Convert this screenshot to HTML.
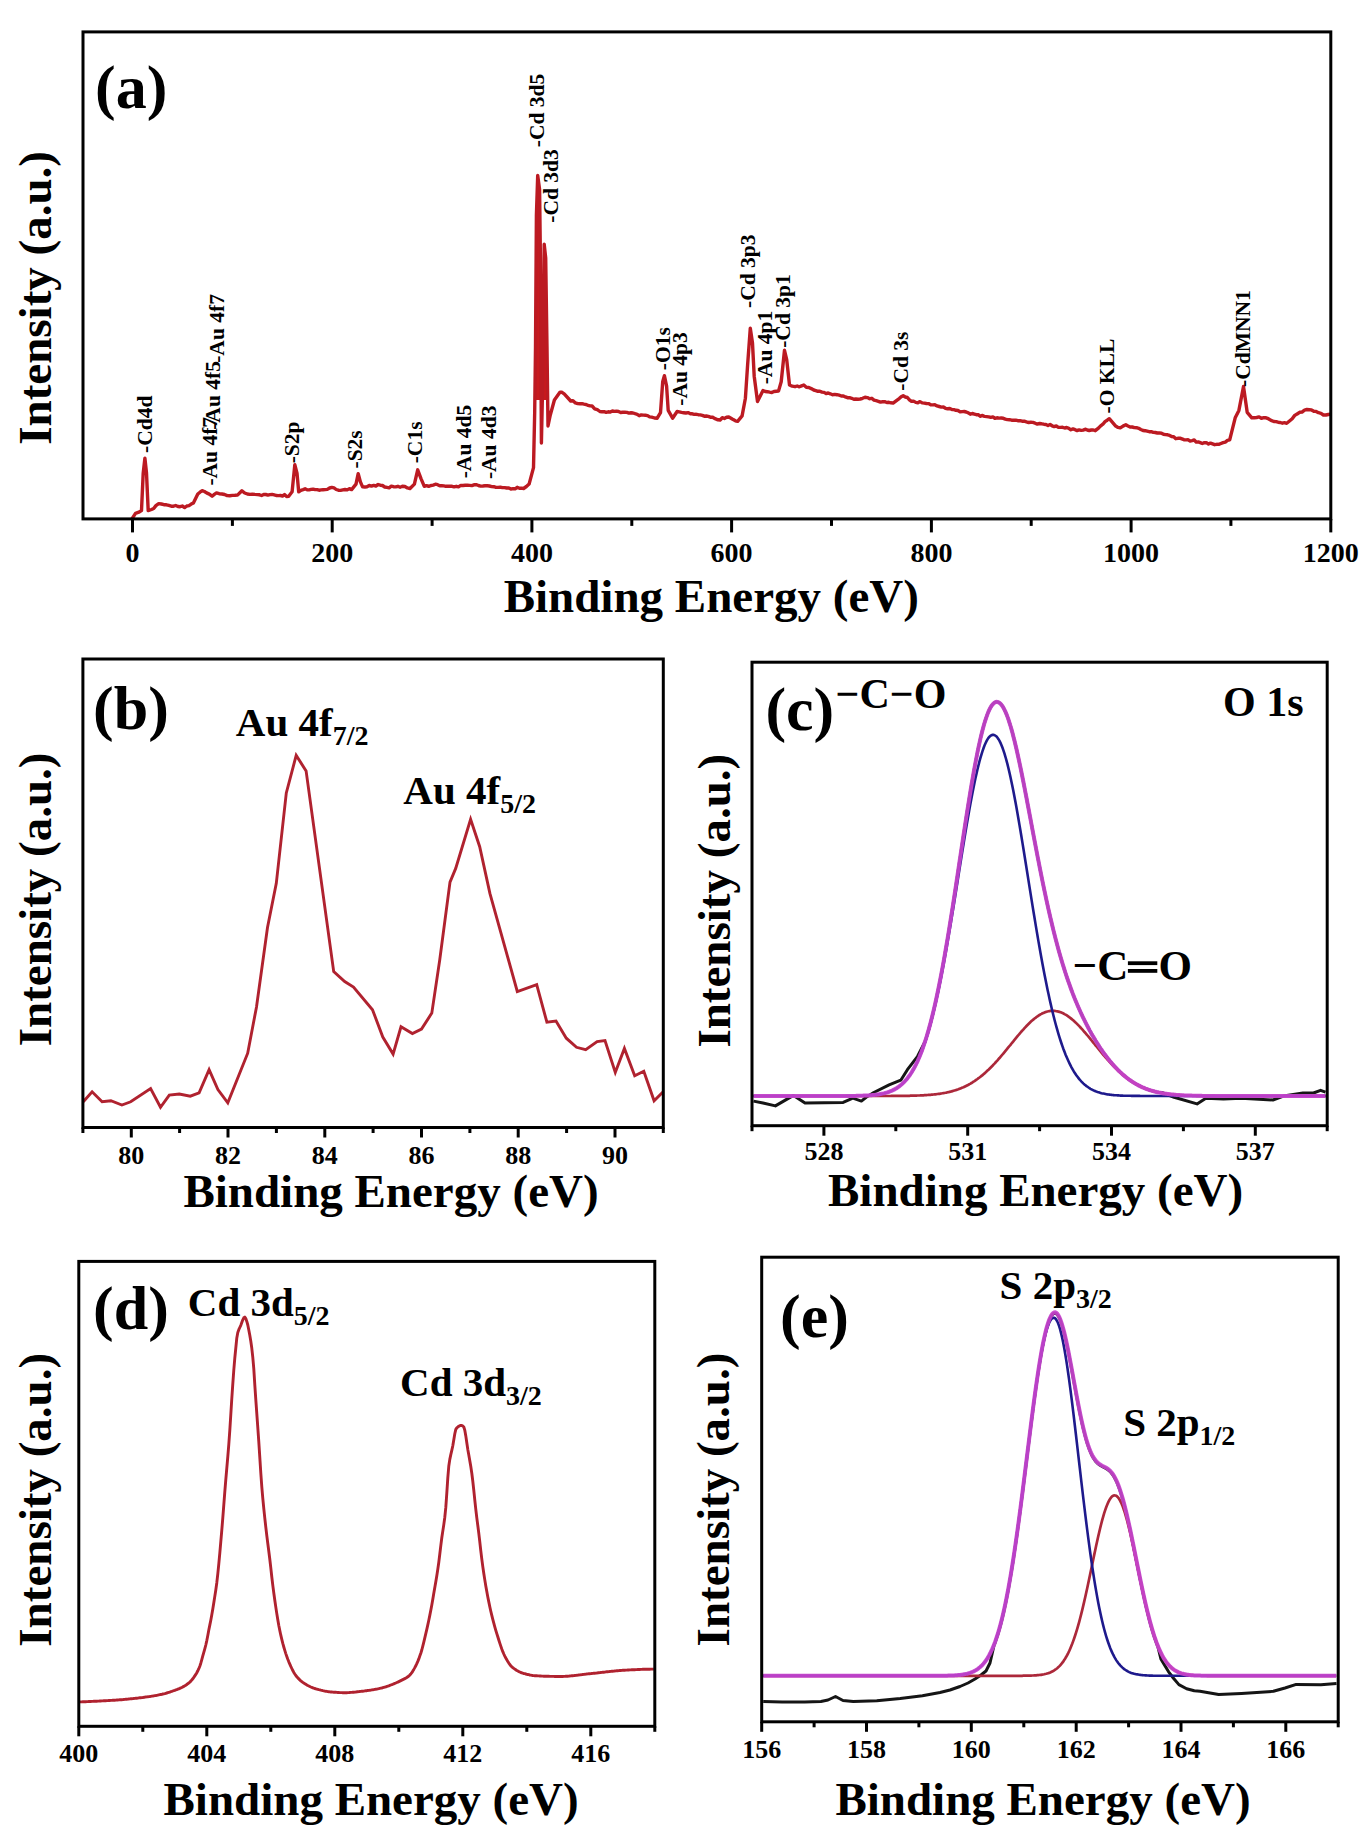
<!DOCTYPE html>
<html><head><meta charset="utf-8"><title>XPS spectra</title>
<style>
html,body{margin:0;padding:0;background:#fff;}
svg{display:block;}
text{font-family:"Liberation Serif", serif;font-weight:bold;fill:#000;}
</style></head>
<body>
<svg width="1360" height="1835" viewBox="0 0 1360 1835">
<rect width="1360" height="1835" fill="#fff"/>
<g id="curves">
<path d="M534.9,400 L535.5,348 L536.4,215.6 L537.7,175.5 L539.6,189.4 L540.4,258 L540.9,356 L541.2,400 Z M542.7,400 L542.9,372.5 L544.2,244.2 L545.7,258 L547,348 L547.6,400 Z" fill="#c81a1e"/>
<path d="M131.6,519.4 L135.5,513.3 L138.8,512.2 L141.5,510.6 L143.2,473.1 L144.9,458.2 L146.5,473.0 L148.2,510.6 L151.5,509.5 L153.7,508.5 L155.9,505.6 L158.7,503.6 L161.4,504.0 L163.9,504.7 L166.4,504.8 L168.8,505.4 L171.3,506.2 L173.5,506.2 L175.7,505.5 L177.9,506.5 L180.1,506.7 L182.3,506.0 L184.6,507.6 L186.8,506.0 L189.0,505.6 L191.2,504.1 L193.4,502.9 L197.8,494.0 L200.0,492.2 L202.2,490.7 L204.4,491.5 L206.6,492.9 L209.3,494.1 L212.1,496.2 L214.3,494.4 L216.5,492.9 L219.2,493.7 L222.0,494.0 L224.6,494.5 L227.2,495.6 L229.8,495.7 L232.4,495.4 L234.9,495.3 L237.5,495.1 L241.9,490.7 L244.7,493.0 L247.4,494.0 L249.9,494.4 L252.4,494.1 L254.9,494.4 L257.4,494.6 L259.5,494.8 L261.6,495.5 L263.7,494.5 L265.8,494.5 L267.9,495.1 L270.0,494.6 L272.1,494.4 L274.2,494.8 L276.2,495.5 L278.3,495.6 L280.4,495.5 L282.5,496.0 L284.5,494.6 L286.6,496.5 L288.7,496.2 L292.1,491.8 L294.8,464.8 L297.0,473.1 L298.7,491.8 L300.9,490.3 L303.1,489.6 L305.1,488.8 L307.1,489.7 L309.1,489.9 L311.1,489.4 L313.1,489.1 L315.1,489.6 L317.1,489.6 L319.1,490.2 L321.1,489.9 L323.1,489.7 L325.1,489.6 L327.3,489.4 L329.6,488.0 L331.8,487.4 L334.0,487.9 L336.2,489.5 L338.4,490.2 L340.6,490.4 L342.8,489.9 L345.0,489.5 L347.2,489.9 L349.4,488.6 L351.6,489.6 L356.0,484.1 L358.2,473.6 L360.4,481.9 L362.6,486.9 L364.8,487.0 L367.0,486.7 L369.2,485.5 L371.5,486.1 L373.7,485.4 L375.9,486.0 L378.1,484.5 L380.3,485.2 L382.5,485.5 L384.7,487.0 L386.9,487.4 L389.1,487.8 L391.3,486.1 L393.5,486.7 L395.7,486.9 L397.9,486.3 L400.1,487.2 L402.3,486.3 L404.9,486.5 L407.4,487.9 L410.0,488.5 L414.4,484.1 L417.7,469.8 L421.0,478.6 L424.3,486.3 L426.5,485.6 L428.7,486.4 L431.0,485.5 L433.2,485.1 L435.4,484.2 L437.6,484.7 L439.7,485.7 L441.7,485.6 L443.8,485.9 L445.9,486.3 L447.9,486.2 L450.0,486.1 L452.0,486.3 L454.1,486.9 L456.3,486.3 L458.5,486.9 L460.8,485.4 L463.0,485.5 L465.2,485.3 L467.4,485.2 L469.6,485.4 L471.8,485.6 L474.0,484.8 L476.2,484.7 L478.4,485.5 L480.6,486.1 L482.8,486.0 L485.0,485.8 L487.2,485.8 L489.4,486.0 L491.6,486.6 L493.8,486.7 L496.0,487.4 L498.2,487.4 L500.3,487.1 L502.4,487.6 L504.6,487.6 L506.7,488.0 L508.8,488.0 L510.9,489.1 L513.0,488.7 L515.1,488.8 L517.2,487.3 L519.4,488.2 L521.5,488.1 L523.6,488.5 L526.4,486.5 L529.1,484.1 L533.5,467.6 L534.7,411.8 L535.5,348.0 L536.4,215.6 L537.7,175.5 L539.6,189.4 L540.4,258.0 L540.9,356.0 L541.4,443.0 L542.9,372.5 L544.2,244.2 L545.7,258.0 L547.0,348.0 L548.0,426.0 L550.3,415.0 L554.4,400.0 L560.1,392.1 L562.0,392.3 L564.2,393.8 L570.7,401.0 L573.0,400.7 L575.4,402.9 L577.7,403.6 L580.0,403.8 L582.0,403.6 L584.0,404.1 L586.0,404.5 L588.1,405.3 L590.1,405.9 L592.1,406.0 L594.7,408.8 L597.3,409.6 L599.9,411.5 L602.0,411.8 L604.1,411.6 L606.1,412.3 L608.2,411.8 L610.3,412.1 L612.4,411.0 L614.4,411.4 L616.5,411.1 L618.6,411.5 L620.7,412.5 L622.7,412.3 L624.8,412.2 L626.9,412.4 L628.9,413.1 L631.0,412.8 L633.0,413.0 L635.1,413.7 L637.2,414.3 L639.2,415.7 L641.3,414.9 L643.4,415.1 L645.5,415.3 L647.6,415.6 L649.6,416.9 L651.7,417.1 L654.5,418.0 L657.2,418.2 L660.5,412.6 L662.7,381.8 L664.4,375.7 L666.6,386.2 L668.2,410.4 L672.6,418.2 L677.1,411.5 L679.3,411.9 L681.5,412.4 L683.7,412.7 L685.9,413.0 L688.1,412.6 L690.3,413.7 L692.3,413.8 L694.3,414.4 L696.3,414.3 L698.3,414.7 L700.3,414.9 L702.3,415.4 L704.3,416.2 L706.3,416.0 L708.3,416.4 L710.3,417.2 L712.3,417.1 L715.1,418.7 L717.9,419.8 L720.1,420.0 L722.3,417.7 L724.4,418.5 L726.6,417.3 L728.8,417.0 L731.0,418.2 L733.2,419.6 L735.4,420.8 L737.6,421.4 L742.1,415.9 L745.4,398.2 L747.6,365.1 L750.3,328.2 L752.5,343.1 L754.2,376.2 L757.5,401.5 L763.0,390.5 L765.2,391.5 L767.4,391.7 L769.6,392.2 L771.8,392.6 L774.0,391.5 L776.3,391.3 L778.5,391.1 L781.2,381.7 L784.5,350.3 L786.7,359.6 L789.5,385.0 L792.2,386.2 L795.0,386.7 L797.2,386.0 L799.4,386.8 L801.6,385.9 L803.8,385.0 L806.3,387.2 L808.8,387.5 L811.2,388.6 L813.7,390.0 L815.8,390.6 L817.9,391.3 L819.9,391.2 L822.0,392.1 L824.1,392.4 L826.1,393.6 L828.2,393.0 L830.3,393.8 L832.5,394.7 L834.7,394.4 L836.9,394.7 L839.1,395.2 L841.3,396.0 L843.4,395.9 L845.4,396.9 L847.5,397.7 L849.6,397.7 L851.7,398.3 L853.8,399.2 L855.8,399.0 L857.9,399.3 L860.3,399.0 L862.6,398.3 L865.0,397.3 L867.4,397.6 L869.6,398.7 L871.8,398.3 L874.0,400.1 L876.2,400.6 L878.4,401.3 L880.5,402.1 L882.6,401.8 L884.7,401.7 L886.8,402.5 L888.9,402.3 L891.0,402.8 L893.1,403.1 L895.1,401.6 L897.1,400.1 L899.2,398.6 L901.2,396.8 L903.2,395.7 L905.3,397.0 L907.4,397.5 L909.4,399.8 L911.5,401.3 L913.6,401.1 L915.8,402.4 L917.9,402.8 L920.0,401.6 L922.2,402.9 L924.3,403.1 L926.4,403.5 L928.5,403.6 L930.7,404.8 L932.8,404.9 L934.9,404.8 L937.0,405.9 L939.2,406.5 L941.3,407.1 L943.4,407.0 L945.5,408.3 L947.7,408.8 L949.8,408.5 L951.9,409.5 L953.9,409.6 L956.0,410.3 L958.0,410.5 L960.1,411.9 L962.1,411.6 L964.2,411.5 L966.2,412.0 L968.3,412.8 L970.3,414.2 L972.3,413.5 L974.4,414.1 L976.4,414.7 L978.5,414.8 L980.5,416.3 L982.6,415.4 L984.6,416.4 L986.7,416.6 L988.7,416.9 L990.8,417.4 L992.9,416.9 L994.9,418.4 L997.0,417.8 L999.1,418.1 L1001.2,418.0 L1003.3,418.3 L1005.3,419.1 L1007.4,419.6 L1009.5,419.7 L1011.6,420.2 L1013.7,420.2 L1015.7,420.1 L1017.8,420.7 L1019.9,420.6 L1022.1,421.2 L1024.2,421.2 L1026.4,421.9 L1028.6,422.5 L1030.8,422.3 L1032.9,422.4 L1035.1,423.2 L1037.3,424.1 L1039.5,423.5 L1041.6,423.8 L1043.8,424.2 L1045.9,424.5 L1048.0,425.5 L1050.1,424.5 L1052.1,425.8 L1054.2,426.6 L1056.3,426.0 L1058.4,427.4 L1060.5,427.4 L1062.6,427.3 L1064.7,428.0 L1066.8,427.5 L1068.8,428.3 L1070.9,429.8 L1073.0,428.9 L1075.1,429.7 L1077.1,430.6 L1079.1,429.9 L1081.2,430.4 L1083.2,430.1 L1085.2,429.2 L1087.2,430.0 L1089.2,430.5 L1091.3,430.0 L1093.3,430.0 L1095.3,430.7 L1097.8,428.7 L1100.4,426.1 L1102.9,424.2 L1105.0,421.6 L1107.2,420.2 L1109.3,418.7 L1115.7,426.1 L1118.0,427.4 L1120.3,427.9 L1123.0,426.1 L1125.8,424.8 L1128.0,426.0 L1130.1,427.0 L1132.3,427.0 L1134.4,427.6 L1136.6,427.7 L1138.7,428.3 L1140.8,429.5 L1143.0,430.5 L1145.1,430.7 L1147.1,431.2 L1149.2,431.7 L1151.2,431.7 L1153.3,432.4 L1155.3,432.5 L1157.4,433.0 L1159.4,432.9 L1161.5,433.2 L1163.5,434.3 L1165.5,434.6 L1167.6,434.8 L1169.6,435.4 L1171.7,436.6 L1173.7,436.8 L1175.8,438.7 L1177.8,438.3 L1179.9,438.1 L1181.9,438.9 L1183.9,439.7 L1186.0,439.9 L1188.0,439.8 L1190.1,441.0 L1192.1,440.6 L1194.2,440.0 L1196.2,442.1 L1198.3,441.9 L1200.3,442.6 L1202.3,443.5 L1204.4,442.7 L1206.4,442.7 L1208.5,444.1 L1210.5,443.1 L1212.6,443.9 L1214.6,444.7 L1216.7,444.3 L1218.7,444.4 L1220.9,443.5 L1223.1,442.6 L1225.3,442.1 L1227.5,440.4 L1229.7,439.9 L1235.2,417.8 L1238.9,410.4 L1243.5,386.5 L1247.2,412.3 L1251.8,417.8 L1254.2,417.8 L1256.7,417.5 L1259.1,416.9 L1261.4,418.4 L1263.7,417.6 L1266.0,417.8 L1268.3,418.7 L1271.0,420.4 L1273.8,421.5 L1276.0,421.6 L1278.1,422.2 L1280.2,422.5 L1282.4,423.2 L1284.5,422.7 L1286.7,423.3 L1289.5,421.0 L1292.2,418.7 L1294.7,415.4 L1297.1,414.0 L1299.6,412.3 L1302.0,412.1 L1304.5,410.1 L1306.9,409.5 L1309.2,409.7 L1311.5,409.9 L1313.8,411.2 L1316.1,411.4 L1318.5,412.7 L1321.0,413.3 L1323.4,415.0 L1325.9,415.0 L1328.3,414.5 L1330.8,414.1" fill="none" stroke="#bc1a22" stroke-width="3.4" stroke-linejoin="round"/>
<path d="M83.3,1101.8 L92.1,1091.8 L102.1,1101.8 L110.9,1100.7 L121.9,1105.0 L130.7,1101.8 L150.6,1088.5 L160.5,1107.3 L169.3,1095.1 L179.3,1094.0 L190.3,1096.2 L199.1,1092.9 L209.1,1069.7 L217.9,1089.6 L227.8,1102.8 L247.7,1053.2 L256.5,1006.9 L267.5,927.5 L276.3,883.4 L286.3,792.9 L296.2,755.4 L306.1,770.9 L333.7,971.6 L344.7,981.5 L353.5,987.0 L372.5,1009.7 L382.8,1037.0 L393.1,1054.1 L401.0,1026.8 L412.4,1033.6 L421.5,1029.1 L431.8,1013.1 L439.8,959.5 L450.0,882.1 L455.7,868.4 L470.6,819.4 L479.7,846.7 L489.9,893.4 L517.3,991.5 L536.7,984.6 L546.9,1022.2 L556.0,1021.1 L566.3,1038.2 L576.5,1047.3 L585.7,1049.6 L597.1,1041.6 L605.0,1040.5 L615.3,1072.4 L624.4,1048.4 L634.7,1075.8 L643.8,1071.2 L654.1,1100.8 L663.2,1091.7" fill="none" stroke="#b0222f" stroke-width="2.9" stroke-linejoin="miter"/>
<path d="M78.8,1702.0 L79.8,1701.9 L80.8,1701.9 L81.8,1701.9 L82.8,1701.8 L83.8,1701.8 L84.8,1701.7 L85.8,1701.7 L86.8,1701.6 L87.8,1701.6 L88.8,1701.5 L89.8,1701.5 L90.8,1701.5 L91.8,1701.4 L92.8,1701.4 L93.8,1701.3 L94.8,1701.3 L95.8,1701.2 L96.8,1701.2 L97.8,1701.1 L98.8,1701.1 L99.8,1701.0 L100.8,1701.0 L101.8,1700.9 L102.8,1700.9 L103.8,1700.8 L104.8,1700.7 L105.8,1700.7 L106.8,1700.6 L107.8,1700.6 L108.8,1700.5 L109.8,1700.5 L110.8,1700.4 L111.8,1700.4 L112.8,1700.3 L113.8,1700.2 L114.8,1700.2 L115.8,1700.1 L116.8,1700.0 L117.8,1700.0 L118.8,1699.9 L119.8,1699.8 L120.8,1699.7 L121.8,1699.7 L122.8,1699.6 L123.8,1699.5 L124.8,1699.4 L125.8,1699.3 L126.8,1699.2 L127.8,1699.1 L128.8,1699.0 L129.8,1698.9 L130.8,1698.8 L131.8,1698.7 L132.8,1698.6 L133.8,1698.5 L134.8,1698.4 L135.8,1698.3 L136.8,1698.2 L137.8,1698.1 L138.8,1697.9 L139.8,1697.8 L140.8,1697.7 L141.8,1697.6 L142.8,1697.5 L143.8,1697.3 L144.8,1697.2 L145.8,1697.0 L146.8,1696.9 L147.8,1696.8 L148.8,1696.6 L149.8,1696.5 L150.8,1696.3 L151.8,1696.1 L152.8,1696.0 L153.8,1695.8 L154.8,1695.6 L155.8,1695.5 L156.8,1695.3 L157.8,1695.1 L158.8,1694.9 L159.8,1694.7 L160.8,1694.5 L161.8,1694.3 L162.8,1694.0 L163.8,1693.8 L164.8,1693.6 L165.8,1693.3 L166.8,1693.0 L167.8,1692.7 L168.8,1692.4 L169.8,1692.1 L170.8,1691.7 L171.8,1691.4 L172.8,1691.0 L173.8,1690.6 L174.8,1690.3 L175.8,1689.9 L176.8,1689.6 L177.8,1689.2 L178.8,1688.8 L179.8,1688.4 L180.8,1687.9 L181.8,1687.5 L182.8,1686.9 L183.8,1686.4 L184.8,1685.8 L185.8,1685.2 L186.8,1684.5 L187.8,1683.7 L188.8,1683.0 L189.8,1682.1 L190.8,1681.1 L191.8,1680.0 L192.8,1678.8 L193.8,1677.4 L194.8,1675.9 L195.8,1674.4 L196.8,1672.7 L197.8,1670.8 L198.8,1668.7 L199.8,1666.2 L200.8,1663.2 L201.8,1659.6 L202.8,1655.9 L203.8,1652.3 L204.8,1648.8 L205.8,1645.0 L206.8,1640.6 L207.8,1635.4 L208.8,1630.1 L209.8,1625.1 L210.8,1620.2 L211.8,1614.8 L212.8,1609.0 L213.8,1602.8 L214.8,1596.4 L215.8,1590.0 L216.8,1582.7 L217.8,1573.9 L218.8,1563.9 L219.8,1553.1 L220.8,1541.7 L221.8,1530.1 L222.8,1517.9 L223.8,1504.8 L224.8,1491.8 L225.8,1479.6 L226.8,1468.1 L227.8,1456.6 L228.8,1444.3 L229.8,1430.4 L230.8,1414.5 L231.8,1398.5 L232.8,1383.8 L233.8,1370.0 L234.8,1358.2 L235.8,1348.0 L236.8,1337.9 L237.8,1332.5 L238.8,1329.7 L239.8,1327.5 L240.8,1325.3 L241.8,1322.5 L242.8,1319.8 L243.8,1317.8 L244.8,1317.1 L245.8,1318.6 L246.8,1321.4 L247.8,1325.0 L248.8,1330.0 L249.8,1335.2 L250.8,1341.2 L251.8,1348.3 L252.8,1357.3 L253.8,1368.9 L254.8,1384.8 L255.8,1399.7 L256.8,1413.7 L257.8,1427.6 L258.8,1441.9 L259.8,1457.4 L260.8,1473.0 L261.8,1486.8 L262.8,1498.3 L263.8,1508.6 L264.8,1518.1 L265.8,1527.1 L266.8,1535.7 L267.8,1543.5 L268.8,1551.2 L269.8,1559.2 L270.8,1567.9 L271.8,1577.0 L272.8,1585.3 L273.8,1593.0 L274.8,1600.3 L275.8,1607.1 L276.8,1613.6 L277.8,1619.8 L278.8,1625.5 L279.8,1630.5 L280.8,1635.2 L281.8,1639.4 L282.8,1643.4 L283.8,1647.0 L284.8,1650.4 L285.8,1653.6 L286.8,1656.5 L287.8,1659.3 L288.8,1661.8 L289.8,1664.1 L290.8,1666.4 L291.8,1668.5 L292.8,1670.5 L293.8,1672.4 L294.8,1674.0 L295.8,1675.5 L296.8,1676.7 L297.8,1677.9 L298.8,1678.9 L299.8,1679.9 L300.8,1680.8 L301.8,1681.6 L302.8,1682.4 L303.8,1683.1 L304.8,1683.7 L305.8,1684.3 L306.8,1684.9 L307.8,1685.5 L308.8,1686.0 L309.8,1686.5 L310.8,1687.0 L311.8,1687.4 L312.8,1687.8 L313.8,1688.2 L314.8,1688.5 L315.8,1688.8 L316.8,1689.1 L317.8,1689.4 L318.8,1689.7 L319.8,1689.9 L320.8,1690.2 L321.8,1690.4 L322.8,1690.7 L323.8,1690.9 L324.8,1691.1 L325.8,1691.3 L326.8,1691.4 L327.8,1691.6 L328.8,1691.7 L329.8,1691.9 L330.8,1692.0 L331.8,1692.0 L332.8,1692.1 L333.8,1692.2 L334.8,1692.3 L335.8,1692.3 L336.8,1692.4 L337.8,1692.5 L338.8,1692.5 L339.8,1692.6 L340.8,1692.6 L341.8,1692.6 L342.8,1692.7 L343.8,1692.7 L344.8,1692.7 L345.8,1692.7 L346.8,1692.7 L347.8,1692.6 L348.8,1692.6 L349.8,1692.5 L350.8,1692.4 L351.8,1692.4 L352.8,1692.3 L353.8,1692.2 L354.8,1692.1 L355.8,1692.0 L356.8,1691.8 L357.8,1691.7 L358.8,1691.6 L359.8,1691.5 L360.8,1691.4 L361.8,1691.3 L362.8,1691.2 L363.8,1691.1 L364.8,1690.9 L365.8,1690.8 L366.8,1690.7 L367.8,1690.5 L368.8,1690.4 L369.8,1690.3 L370.8,1690.1 L371.8,1689.9 L372.8,1689.8 L373.8,1689.6 L374.8,1689.4 L375.8,1689.2 L376.8,1689.1 L377.8,1688.9 L378.8,1688.7 L379.8,1688.4 L380.8,1688.2 L381.8,1688.0 L382.8,1687.7 L383.8,1687.4 L384.8,1687.1 L385.8,1686.8 L386.8,1686.5 L387.8,1686.1 L388.8,1685.8 L389.8,1685.4 L390.8,1685.0 L391.8,1684.6 L392.8,1684.3 L393.8,1683.8 L394.8,1683.4 L395.8,1683.0 L396.8,1682.5 L397.8,1682.1 L398.8,1681.6 L399.8,1681.1 L400.8,1680.6 L401.8,1680.1 L402.8,1679.6 L403.8,1679.1 L404.8,1678.6 L405.8,1678.1 L406.8,1677.5 L407.8,1676.8 L408.8,1676.0 L409.8,1675.1 L410.8,1674.0 L411.8,1672.6 L412.8,1671.1 L413.8,1669.4 L414.8,1667.6 L415.8,1665.7 L416.8,1663.7 L417.8,1661.4 L418.8,1658.9 L419.8,1656.1 L420.8,1653.2 L421.8,1650.0 L422.8,1646.2 L423.8,1642.2 L424.8,1637.9 L425.8,1633.7 L426.8,1629.4 L427.8,1624.9 L428.8,1620.3 L429.8,1615.4 L430.8,1610.3 L431.8,1604.9 L432.8,1599.2 L433.8,1593.3 L434.8,1587.5 L435.8,1581.7 L436.8,1575.7 L437.8,1569.3 L438.8,1562.2 L439.8,1554.0 L440.8,1545.6 L441.8,1537.8 L442.8,1531.1 L443.8,1524.6 L444.8,1517.2 L445.8,1507.4 L446.8,1493.1 L447.8,1477.9 L448.8,1466.0 L449.8,1459.4 L450.8,1454.6 L451.8,1450.4 L452.8,1445.8 L453.8,1439.8 L454.8,1433.8 L455.8,1429.4 L456.8,1427.9 L457.8,1427.0 L458.8,1426.3 L459.8,1425.7 L460.8,1425.5 L461.8,1425.4 L462.8,1426.0 L463.8,1427.0 L464.8,1430.2 L465.8,1435.9 L466.8,1442.7 L467.8,1449.4 L468.8,1455.1 L469.8,1460.7 L470.8,1466.6 L471.8,1473.2 L472.8,1481.2 L473.8,1490.4 L474.8,1500.1 L475.8,1509.4 L476.8,1517.8 L477.8,1525.5 L478.8,1533.4 L479.8,1541.9 L480.8,1550.9 L481.8,1559.2 L482.8,1566.6 L483.8,1573.5 L484.8,1579.9 L485.8,1585.9 L486.8,1591.5 L487.8,1596.9 L488.8,1601.9 L489.8,1606.7 L490.8,1611.2 L491.8,1615.4 L492.8,1619.4 L493.8,1623.2 L494.8,1626.8 L495.8,1630.3 L496.8,1633.6 L497.8,1636.8 L498.8,1640.0 L499.8,1643.1 L500.8,1646.1 L501.8,1649.0 L502.8,1651.7 L503.8,1654.0 L504.8,1656.1 L505.8,1658.0 L506.8,1659.8 L507.8,1661.5 L508.8,1663.1 L509.8,1664.5 L510.8,1665.7 L511.8,1666.8 L512.8,1667.6 L513.8,1668.4 L514.8,1669.1 L515.8,1669.8 L516.8,1670.5 L517.8,1671.0 L518.8,1671.6 L519.8,1672.0 L520.8,1672.5 L521.8,1672.8 L522.8,1673.2 L523.8,1673.5 L524.8,1673.7 L525.8,1674.0 L526.8,1674.3 L527.8,1674.5 L528.8,1674.7 L529.8,1675.0 L530.8,1675.1 L531.8,1675.3 L532.8,1675.5 L533.8,1675.6 L534.8,1675.7 L535.8,1675.8 L536.8,1675.8 L537.8,1675.9 L538.8,1675.9 L539.8,1676.0 L540.8,1676.0 L541.8,1676.1 L542.8,1676.1 L543.8,1676.2 L544.8,1676.2 L545.8,1676.2 L546.8,1676.3 L547.8,1676.3 L548.8,1676.3 L549.8,1676.4 L550.8,1676.4 L551.8,1676.4 L552.8,1676.4 L553.8,1676.4 L554.8,1676.5 L555.8,1676.5 L556.8,1676.5 L557.8,1676.5 L558.8,1676.5 L559.8,1676.5 L560.8,1676.5 L561.8,1676.5 L562.8,1676.5 L563.8,1676.4 L564.8,1676.4 L565.8,1676.3 L566.8,1676.3 L567.8,1676.2 L568.8,1676.1 L569.8,1676.0 L570.8,1675.9 L571.8,1675.8 L572.8,1675.7 L573.8,1675.6 L574.8,1675.5 L575.8,1675.4 L576.8,1675.3 L577.8,1675.1 L578.8,1675.0 L579.8,1674.9 L580.8,1674.8 L581.8,1674.6 L582.8,1674.5 L583.8,1674.4 L584.8,1674.3 L585.8,1674.1 L586.8,1674.0 L587.8,1673.9 L588.8,1673.8 L589.8,1673.7 L590.8,1673.6 L591.8,1673.5 L592.8,1673.4 L593.8,1673.3 L594.8,1673.2 L595.8,1673.1 L596.8,1673.0 L597.8,1672.8 L598.8,1672.7 L599.8,1672.6 L600.8,1672.5 L601.8,1672.4 L602.8,1672.3 L603.8,1672.2 L604.8,1672.1 L605.8,1671.9 L606.8,1671.8 L607.8,1671.7 L608.8,1671.6 L609.8,1671.5 L610.8,1671.4 L611.8,1671.3 L612.8,1671.2 L613.8,1671.1 L614.8,1671.0 L615.8,1670.9 L616.8,1670.8 L617.8,1670.7 L618.8,1670.6 L619.8,1670.5 L620.8,1670.5 L621.8,1670.4 L622.8,1670.3 L623.8,1670.3 L624.8,1670.2 L625.8,1670.1 L626.8,1670.1 L627.8,1670.0 L628.8,1670.0 L629.8,1669.9 L630.8,1669.9 L631.8,1669.8 L632.8,1669.8 L633.8,1669.7 L634.8,1669.7 L635.8,1669.6 L636.8,1669.6 L637.8,1669.5 L638.8,1669.5 L639.8,1669.5 L640.8,1669.4 L641.8,1669.4 L642.8,1669.3 L643.8,1669.3 L644.8,1669.3 L645.8,1669.2 L646.8,1669.2 L647.8,1669.2 L648.8,1669.2 L649.8,1669.2 L650.8,1669.1 L651.8,1669.1 L652.8,1669.1 L653.8,1669.1" fill="none" stroke="#b0222f" stroke-width="2.9" stroke-linejoin="round"/>
<path d="M753.5,1101.1 L763.0,1103.0 L775.4,1105.9 L793.5,1095.4 L805.0,1103.0 L843.2,1102.4 L852.8,1098.2 L861.4,1101.1 L866.2,1097.3 L873.8,1092.5 L889.1,1084.9 L900.8,1080.2 L907.4,1069.7 L917.6,1056.3 L925.0,1041.7 L926.0,1038.6 L927.0,1035.4 L928.0,1032.0 L929.0,1028.5 L930.0,1024.8 L931.0,1021.0 L932.0,1017.1 L933.0,1013.0 L934.0,1008.8 L935.0,1004.5 L936.0,1000.0 L937.0,995.3 L938.0,990.6 L939.0,985.7 L940.0,980.7 L941.0,975.5 L942.0,970.2 L943.0,964.8 L944.0,959.3 L945.0,953.6 L946.0,947.8 L947.0,942.0 L948.0,936.0 L949.0,929.9 L950.0,923.7 L951.0,917.5 L952.0,911.1 L953.0,904.7 L954.0,898.3 L955.0,891.7 L956.0,885.2 L957.0,878.6 L958.0,871.9 L959.0,865.3 L960.0,858.6 L961.0,852.0 L962.0,845.3 L963.0,838.7 L964.0,832.1 L965.0,825.6 L966.0,819.1 L967.0,812.6 L968.0,806.3 L969.0,800.1 L970.0,793.9 L971.0,787.9 L972.0,782.0 L973.0,776.2 L974.0,770.6 L975.0,765.1 L976.0,759.8 L977.0,754.7 L978.0,749.8 L979.0,745.1 L980.0,740.5 L981.0,736.2 L982.0,732.2 L983.0,728.3 L984.0,724.7 L985.0,721.3 L986.0,718.2 L987.0,715.4 L988.0,712.8 L989.0,710.5 L990.0,708.5 L991.0,706.7 L992.0,705.2 L993.0,704.0 L994.0,703.0 L995.0,702.4 L996.0,702.0 L997.0,701.9 L998.0,702.1 L999.0,702.5 L1000.0,703.3 L1001.0,704.3 L1002.0,705.5 L1003.0,707.0 L1004.0,708.8 L1005.0,710.8 L1006.0,713.1 L1007.0,715.6 L1008.0,718.3 L1009.0,721.2 L1010.0,724.3 L1011.0,727.7 L1012.0,731.2 L1013.0,734.9 L1014.0,738.8 L1015.0,742.9 L1016.0,747.1 L1017.0,751.4 L1018.0,755.9 L1019.0,760.5 L1020.0,765.3 L1021.0,770.1 L1022.0,775.0 L1023.0,780.0 L1024.0,785.1 L1025.0,790.2 L1026.0,795.4 L1027.0,800.6 L1028.0,805.9 L1029.0,811.2 L1030.0,816.5 L1031.0,821.8 L1032.0,827.1 L1033.0,832.5 L1034.0,837.8 L1035.0,843.0 L1036.0,848.3 L1037.0,853.5 L1038.0,858.7 L1039.0,863.8 L1040.0,868.9 L1041.0,873.9 L1042.0,878.8 L1043.0,883.7 L1044.0,888.6 L1045.0,893.3 L1046.0,898.0 L1047.0,902.6 L1048.0,907.1 L1049.0,911.6 L1050.0,915.9 L1051.0,920.2 L1052.0,924.4 L1053.0,928.5 L1054.0,932.6 L1055.0,936.5 L1056.0,940.4 L1057.0,944.2 L1058.0,947.9 L1059.0,951.5 L1060.0,955.0 L1061.0,958.4 L1062.0,961.8 L1063.0,965.1 L1064.0,968.3 L1065.0,971.5 L1066.0,974.5 L1067.0,977.5 L1068.0,980.5 L1069.0,983.3 L1070.0,986.1 L1071.0,988.9 L1072.0,991.5 L1073.0,994.2 L1074.0,996.7 L1075.0,999.2 L1076.0,1001.6 L1077.0,1004.0 L1078.0,1006.4 L1079.0,1008.7 L1080.0,1010.9 L1081.0,1013.1 L1082.0,1015.2 L1083.0,1017.4 L1084.0,1019.4 L1085.0,1021.4 L1086.0,1023.4 L1087.0,1025.4 L1088.0,1027.3 L1089.0,1029.1 L1090.0,1031.0 L1091.0,1032.8 L1092.0,1034.5 L1093.0,1036.3 L1094.0,1038.0 L1095.0,1039.6 L1096.0,1041.3 L1097.0,1042.9 L1098.0,1044.5 L1099.0,1046.0 L1100.0,1047.5 L1101.0,1049.0 L1102.0,1050.5 L1103.0,1051.9 L1104.0,1053.3 L1105.0,1054.6 L1106.0,1056.0 L1107.0,1057.3 L1108.0,1058.6 L1109.0,1059.8 L1110.0,1061.1 L1111.0,1062.3 L1112.0,1063.5 L1113.0,1064.6 L1114.0,1065.7 L1115.0,1066.8 L1116.0,1067.9 L1117.0,1068.9 L1118.0,1070.0 L1119.0,1070.9 L1120.0,1071.9 L1121.0,1072.8 L1122.0,1073.8 L1123.0,1074.6 L1124.0,1075.5 L1125.0,1076.3 L1126.0,1077.2 L1127.0,1077.9 L1128.0,1078.7 L1129.0,1079.5 L1130.0,1080.2 L1131.0,1080.9 L1132.0,1081.5 L1133.0,1082.2 L1134.0,1082.8 L1135.0,1083.4 L1136.0,1084.0 L1137.0,1084.6 L1138.0,1085.1 L1139.0,1085.6 L1140.0,1086.1 L1141.0,1086.6 L1142.0,1087.1 L1143.0,1087.5 L1144.0,1087.9 L1145.0,1088.4 L1146.0,1088.8 L1147.0,1089.1 L1148.0,1089.5 L1149.0,1089.8 L1150.0,1090.2 L1151.0,1090.5 L1152.0,1090.8 L1153.0,1091.1 L1154.0,1091.3 L1155.0,1091.6 L1156.0,1091.9 L1157.0,1092.1 L1158.0,1092.3 L1159.0,1092.5 L1161.8,1092.5 L1174.1,1097.3 L1197.0,1103.9 L1205.9,1098.2 L1223.5,1099.1 L1241.2,1098.2 L1272.9,1100.0 L1283.5,1096.1 L1302.9,1093.0 L1313.5,1093.0 L1320.6,1090.3 L1325.5,1092.1" fill="none" stroke="#151515" stroke-width="3" stroke-linejoin="round"/>
<path d="M753.5,1096.0 L754.5,1096.0 L755.5,1096.0 L756.5,1096.0 L757.5,1096.0 L758.5,1096.0 L759.5,1096.0 L760.5,1096.0 L761.5,1096.0 L762.5,1096.0 L763.5,1096.0 L764.5,1096.0 L765.5,1096.0 L766.5,1096.0 L767.5,1096.0 L768.5,1096.0 L769.5,1096.0 L770.5,1096.0 L771.5,1096.0 L772.5,1096.0 L773.5,1096.0 L774.5,1096.0 L775.5,1096.0 L776.5,1096.0 L777.5,1096.0 L778.5,1096.0 L779.5,1096.0 L780.5,1096.0 L781.5,1096.0 L782.5,1096.0 L783.5,1096.0 L784.5,1096.0 L785.5,1096.0 L786.5,1096.0 L787.5,1096.0 L788.5,1096.0 L789.5,1096.0 L790.5,1096.0 L791.5,1096.0 L792.5,1096.0 L793.5,1096.0 L794.5,1096.0 L795.5,1096.0 L796.5,1096.0 L797.5,1096.0 L798.5,1096.0 L799.5,1096.0 L800.5,1096.0 L801.5,1096.0 L802.5,1096.0 L803.5,1096.0 L804.5,1096.0 L805.5,1096.0 L806.5,1096.0 L807.5,1096.0 L808.5,1096.0 L809.5,1096.0 L810.5,1096.0 L811.5,1096.0 L812.5,1096.0 L813.5,1096.0 L814.5,1096.0 L815.5,1096.0 L816.5,1096.0 L817.5,1096.0 L818.5,1096.0 L819.5,1096.0 L820.5,1096.0 L821.5,1096.0 L822.5,1096.0 L823.5,1096.0 L824.5,1096.0 L825.5,1096.0 L826.5,1096.0 L827.5,1096.0 L828.5,1096.0 L829.5,1096.0 L830.5,1096.0 L831.5,1096.0 L832.5,1096.0 L833.5,1096.0 L834.5,1096.0 L835.5,1096.0 L836.5,1096.0 L837.5,1096.0 L838.5,1096.0 L839.5,1096.0 L840.5,1096.0 L841.5,1096.0 L842.5,1096.0 L843.5,1096.0 L844.5,1096.0 L845.5,1096.0 L846.5,1096.0 L847.5,1096.0 L848.5,1096.0 L849.5,1096.0 L850.5,1096.0 L851.5,1096.0 L852.5,1096.0 L853.5,1096.0 L854.5,1096.0 L855.5,1096.0 L856.5,1096.0 L857.5,1096.0 L858.5,1096.0 L859.5,1096.0 L860.5,1096.0 L861.5,1096.0 L862.5,1096.0 L863.5,1096.0 L864.5,1096.0 L865.5,1096.0 L866.5,1096.0 L867.5,1096.0 L868.5,1096.0 L869.5,1096.0 L870.5,1096.0 L871.5,1096.0 L872.5,1096.0 L873.5,1096.0 L874.5,1096.0 L875.5,1096.0 L876.5,1096.0 L877.5,1096.0 L878.5,1096.0 L879.5,1096.0 L880.5,1096.0 L881.5,1096.0 L882.5,1096.0 L883.5,1096.0 L884.5,1096.0 L885.5,1096.0 L886.5,1096.0 L887.5,1096.0 L888.5,1096.0 L889.5,1096.0 L890.5,1096.0 L891.5,1095.9 L892.5,1095.9 L893.5,1095.9 L894.5,1095.9 L895.5,1095.9 L896.5,1095.9 L897.5,1095.9 L898.5,1095.9 L899.5,1095.9 L900.5,1095.9 L901.5,1095.9 L902.5,1095.9 L903.5,1095.8 L904.5,1095.8 L905.5,1095.8 L906.5,1095.8 L907.5,1095.8 L908.5,1095.8 L909.5,1095.8 L910.5,1095.7 L911.5,1095.7 L912.5,1095.7 L913.5,1095.7 L914.5,1095.6 L915.5,1095.6 L916.5,1095.6 L917.5,1095.5 L918.5,1095.5 L919.5,1095.5 L920.5,1095.4 L921.5,1095.4 L922.5,1095.3 L923.5,1095.3 L924.5,1095.2 L925.5,1095.1 L926.5,1095.1 L927.5,1095.0 L928.5,1094.9 L929.5,1094.9 L930.5,1094.8 L931.5,1094.7 L932.5,1094.6 L933.5,1094.5 L934.5,1094.4 L935.5,1094.3 L936.5,1094.2 L937.5,1094.0 L938.5,1093.9 L939.5,1093.8 L940.5,1093.6 L941.5,1093.5 L942.5,1093.3 L943.5,1093.1 L944.5,1093.0 L945.5,1092.8 L946.5,1092.6 L947.5,1092.3 L948.5,1092.1 L949.5,1091.9 L950.5,1091.6 L951.5,1091.4 L952.5,1091.1 L953.5,1090.8 L954.5,1090.5 L955.5,1090.2 L956.5,1089.9 L957.5,1089.5 L958.5,1089.2 L959.5,1088.8 L960.5,1088.4 L961.5,1088.0 L962.5,1087.6 L963.5,1087.2 L964.5,1086.7 L965.5,1086.2 L966.5,1085.7 L967.5,1085.2 L968.5,1084.7 L969.5,1084.1 L970.5,1083.6 L971.5,1083.0 L972.5,1082.4 L973.5,1081.7 L974.5,1081.1 L975.5,1080.4 L976.5,1079.7 L977.5,1079.0 L978.5,1078.2 L979.5,1077.5 L980.5,1076.7 L981.5,1075.9 L982.5,1075.1 L983.5,1074.2 L984.5,1073.4 L985.5,1072.5 L986.5,1071.6 L987.5,1070.6 L988.5,1069.7 L989.5,1068.7 L990.5,1067.7 L991.5,1066.7 L992.5,1065.7 L993.5,1064.6 L994.5,1063.6 L995.5,1062.5 L996.5,1061.4 L997.5,1060.3 L998.5,1059.1 L999.5,1058.0 L1000.5,1056.8 L1001.5,1055.7 L1002.5,1054.5 L1003.5,1053.3 L1004.5,1052.1 L1005.5,1050.9 L1006.5,1049.7 L1007.5,1048.4 L1008.5,1047.2 L1009.5,1046.0 L1010.5,1044.8 L1011.5,1043.5 L1012.5,1042.3 L1013.5,1041.1 L1014.5,1039.8 L1015.5,1038.6 L1016.5,1037.4 L1017.5,1036.2 L1018.5,1035.0 L1019.5,1033.8 L1020.5,1032.7 L1021.5,1031.5 L1022.5,1030.4 L1023.5,1029.3 L1024.5,1028.2 L1025.5,1027.1 L1026.5,1026.0 L1027.5,1025.0 L1028.5,1024.0 L1029.5,1023.0 L1030.5,1022.0 L1031.5,1021.1 L1032.5,1020.2 L1033.5,1019.4 L1034.5,1018.5 L1035.5,1017.8 L1036.5,1017.0 L1037.5,1016.3 L1038.5,1015.6 L1039.5,1015.0 L1040.5,1014.4 L1041.5,1013.9 L1042.5,1013.3 L1043.5,1012.9 L1044.5,1012.5 L1045.5,1012.1 L1046.5,1011.8 L1047.5,1011.5 L1048.5,1011.3 L1049.5,1011.1 L1050.5,1010.9 L1051.5,1010.9 L1052.5,1010.8 L1053.5,1010.8 L1054.5,1010.9 L1055.5,1011.0 L1056.5,1011.2 L1057.5,1011.4 L1058.5,1011.6 L1059.5,1011.9 L1060.5,1012.2 L1061.5,1012.6 L1062.5,1013.1 L1063.5,1013.5 L1064.5,1014.1 L1065.5,1014.6 L1066.5,1015.2 L1067.5,1015.9 L1068.5,1016.6 L1069.5,1017.3 L1070.5,1018.1 L1071.5,1018.9 L1072.5,1019.7 L1073.5,1020.6 L1074.5,1021.5 L1075.5,1022.4 L1076.5,1023.4 L1077.5,1024.4 L1078.5,1025.4 L1079.5,1026.4 L1080.5,1027.5 L1081.5,1028.6 L1082.5,1029.7 L1083.5,1030.8 L1084.5,1032.0 L1085.5,1033.1 L1086.5,1034.3 L1087.5,1035.5 L1088.5,1036.7 L1089.5,1037.9 L1090.5,1039.1 L1091.5,1040.3 L1092.5,1041.6 L1093.5,1042.8 L1094.5,1044.0 L1095.5,1045.3 L1096.5,1046.5 L1097.5,1047.7 L1098.5,1048.9 L1099.5,1050.2 L1100.5,1051.4 L1101.5,1052.6 L1102.5,1053.8 L1103.5,1055.0 L1104.5,1056.1 L1105.5,1057.3 L1106.5,1058.4 L1107.5,1059.6 L1108.5,1060.7 L1109.5,1061.8 L1110.5,1062.9 L1111.5,1064.0 L1112.5,1065.0 L1113.5,1066.1 L1114.5,1067.1 L1115.5,1068.1 L1116.5,1069.1 L1117.5,1070.1 L1118.5,1071.0 L1119.5,1071.9 L1120.5,1072.8 L1121.5,1073.7 L1122.5,1074.6 L1123.5,1075.4 L1124.5,1076.2 L1125.5,1077.0 L1126.5,1077.8 L1127.5,1078.5 L1128.5,1079.3 L1129.5,1080.0 L1130.5,1080.7 L1131.5,1081.3 L1132.5,1082.0 L1133.5,1082.6 L1134.5,1083.2 L1135.5,1083.8 L1136.5,1084.4 L1137.5,1084.9 L1138.5,1085.4 L1139.5,1085.9 L1140.5,1086.4 L1141.5,1086.9 L1142.5,1087.3 L1143.5,1087.8 L1144.5,1088.2 L1145.5,1088.6 L1146.5,1089.0 L1147.5,1089.3 L1148.5,1089.7 L1149.5,1090.0 L1150.5,1090.3 L1151.5,1090.6 L1152.5,1090.9 L1153.5,1091.2 L1154.5,1091.5 L1155.5,1091.7 L1156.5,1092.0 L1157.5,1092.2 L1158.5,1092.4 L1159.5,1092.6 L1160.5,1092.8 L1161.5,1093.0 L1162.5,1093.2 L1163.5,1093.4 L1164.5,1093.5 L1165.5,1093.7 L1166.5,1093.8 L1167.5,1094.0 L1168.5,1094.1 L1169.5,1094.2 L1170.5,1094.3 L1171.5,1094.4 L1172.5,1094.5 L1173.5,1094.6 L1174.5,1094.7 L1175.5,1094.8 L1176.5,1094.9 L1177.5,1095.0 L1178.5,1095.0 L1179.5,1095.1 L1180.5,1095.2 L1181.5,1095.2 L1182.5,1095.3 L1183.5,1095.3 L1184.5,1095.4 L1185.5,1095.4 L1186.5,1095.5 L1187.5,1095.5 L1188.5,1095.5 L1189.5,1095.6 L1190.5,1095.6 L1191.5,1095.6 L1192.5,1095.7 L1193.5,1095.7 L1194.5,1095.7 L1195.5,1095.7 L1196.5,1095.8 L1197.5,1095.8 L1198.5,1095.8 L1199.5,1095.8 L1200.5,1095.8 L1201.5,1095.8 L1202.5,1095.9 L1203.5,1095.9 L1204.5,1095.9 L1205.5,1095.9 L1206.5,1095.9 L1207.5,1095.9 L1208.5,1095.9 L1209.5,1095.9 L1210.5,1095.9 L1211.5,1095.9 L1212.5,1095.9 L1213.5,1095.9 L1214.5,1095.9 L1215.5,1096.0 L1216.5,1096.0 L1217.5,1096.0 L1218.5,1096.0 L1219.5,1096.0 L1220.5,1096.0 L1221.5,1096.0 L1222.5,1096.0 L1223.5,1096.0 L1224.5,1096.0 L1225.5,1096.0 L1226.5,1096.0 L1227.5,1096.0 L1228.5,1096.0 L1229.5,1096.0 L1230.5,1096.0 L1231.5,1096.0 L1232.5,1096.0 L1233.5,1096.0 L1234.5,1096.0 L1235.5,1096.0 L1236.5,1096.0 L1237.5,1096.0 L1238.5,1096.0 L1239.5,1096.0 L1240.5,1096.0 L1241.5,1096.0 L1242.5,1096.0 L1243.5,1096.0 L1244.5,1096.0 L1245.5,1096.0 L1246.5,1096.0 L1247.5,1096.0 L1248.5,1096.0 L1249.5,1096.0 L1250.5,1096.0 L1251.5,1096.0 L1252.5,1096.0 L1253.5,1096.0 L1254.5,1096.0 L1255.5,1096.0 L1256.5,1096.0 L1257.5,1096.0 L1258.5,1096.0 L1259.5,1096.0 L1260.5,1096.0 L1261.5,1096.0 L1262.5,1096.0 L1263.5,1096.0 L1264.5,1096.0 L1265.5,1096.0 L1266.5,1096.0 L1267.5,1096.0 L1268.5,1096.0 L1269.5,1096.0 L1270.5,1096.0 L1271.5,1096.0 L1272.5,1096.0 L1273.5,1096.0 L1274.5,1096.0 L1275.5,1096.0 L1276.5,1096.0 L1277.5,1096.0 L1278.5,1096.0 L1279.5,1096.0 L1280.5,1096.0 L1281.5,1096.0 L1282.5,1096.0 L1283.5,1096.0 L1284.5,1096.0 L1285.5,1096.0 L1286.5,1096.0 L1287.5,1096.0 L1288.5,1096.0 L1289.5,1096.0 L1290.5,1096.0 L1291.5,1096.0 L1292.5,1096.0 L1293.5,1096.0 L1294.5,1096.0 L1295.5,1096.0 L1296.5,1096.0 L1297.5,1096.0 L1298.5,1096.0 L1299.5,1096.0 L1300.5,1096.0 L1301.5,1096.0 L1302.5,1096.0 L1303.5,1096.0 L1304.5,1096.0 L1305.5,1096.0 L1306.5,1096.0 L1307.5,1096.0 L1308.5,1096.0 L1309.5,1096.0 L1310.5,1096.0 L1311.5,1096.0 L1312.5,1096.0 L1313.5,1096.0 L1314.5,1096.0 L1315.5,1096.0 L1316.5,1096.0 L1317.5,1096.0 L1318.5,1096.0 L1319.5,1096.0 L1320.5,1096.0 L1321.5,1096.0 L1322.5,1096.0 L1323.5,1096.0 L1324.5,1096.0 L1325.5,1096.0" fill="none" stroke="#ac283a" stroke-width="2.7"/>
<path d="M753.5,1096.0 L754.5,1096.0 L755.5,1096.0 L756.5,1096.0 L757.5,1096.0 L758.5,1096.0 L759.5,1096.0 L760.5,1096.0 L761.5,1096.0 L762.5,1096.0 L763.5,1096.0 L764.5,1096.0 L765.5,1096.0 L766.5,1096.0 L767.5,1096.0 L768.5,1096.0 L769.5,1096.0 L770.5,1096.0 L771.5,1096.0 L772.5,1096.0 L773.5,1096.0 L774.5,1096.0 L775.5,1096.0 L776.5,1096.0 L777.5,1096.0 L778.5,1096.0 L779.5,1096.0 L780.5,1096.0 L781.5,1096.0 L782.5,1096.0 L783.5,1096.0 L784.5,1096.0 L785.5,1096.0 L786.5,1096.0 L787.5,1096.0 L788.5,1096.0 L789.5,1096.0 L790.5,1096.0 L791.5,1096.0 L792.5,1096.0 L793.5,1096.0 L794.5,1096.0 L795.5,1096.0 L796.5,1096.0 L797.5,1096.0 L798.5,1096.0 L799.5,1096.0 L800.5,1096.0 L801.5,1096.0 L802.5,1096.0 L803.5,1096.0 L804.5,1096.0 L805.5,1096.0 L806.5,1096.0 L807.5,1096.0 L808.5,1096.0 L809.5,1096.0 L810.5,1096.0 L811.5,1096.0 L812.5,1096.0 L813.5,1096.0 L814.5,1096.0 L815.5,1096.0 L816.5,1096.0 L817.5,1096.0 L818.5,1096.0 L819.5,1096.0 L820.5,1096.0 L821.5,1096.0 L822.5,1096.0 L823.5,1096.0 L824.5,1096.0 L825.5,1096.0 L826.5,1096.0 L827.5,1096.0 L828.5,1096.0 L829.5,1096.0 L830.5,1096.0 L831.5,1096.0 L832.5,1096.0 L833.5,1096.0 L834.5,1096.0 L835.5,1096.0 L836.5,1096.0 L837.5,1096.0 L838.5,1096.0 L839.5,1096.0 L840.5,1096.0 L841.5,1096.0 L842.5,1096.0 L843.5,1096.0 L844.5,1096.0 L845.5,1096.0 L846.5,1095.9 L847.5,1095.9 L848.5,1095.9 L849.5,1095.9 L850.5,1095.9 L851.5,1095.9 L852.5,1095.9 L853.5,1095.9 L854.5,1095.9 L855.5,1095.9 L856.5,1095.8 L857.5,1095.8 L858.5,1095.8 L859.5,1095.8 L860.5,1095.7 L861.5,1095.7 L862.5,1095.7 L863.5,1095.6 L864.5,1095.6 L865.5,1095.6 L866.5,1095.5 L867.5,1095.5 L868.5,1095.4 L869.5,1095.3 L870.5,1095.3 L871.5,1095.2 L872.5,1095.1 L873.5,1095.0 L874.5,1094.9 L875.5,1094.8 L876.5,1094.7 L877.5,1094.5 L878.5,1094.4 L879.5,1094.2 L880.5,1094.1 L881.5,1093.9 L882.5,1093.7 L883.5,1093.4 L884.5,1093.2 L885.5,1092.9 L886.5,1092.7 L887.5,1092.4 L888.5,1092.0 L889.5,1091.7 L890.5,1091.3 L891.5,1090.9 L892.5,1090.4 L893.5,1089.9 L894.5,1089.4 L895.5,1088.9 L896.5,1088.3 L897.5,1087.6 L898.5,1087.0 L899.5,1086.2 L900.5,1085.4 L901.5,1084.6 L902.5,1083.7 L903.5,1082.8 L904.5,1081.8 L905.5,1080.7 L906.5,1079.6 L907.5,1078.4 L908.5,1077.1 L909.5,1075.7 L910.5,1074.3 L911.5,1072.8 L912.5,1071.2 L913.5,1069.5 L914.5,1067.7 L915.5,1065.8 L916.5,1063.8 L917.5,1061.7 L918.5,1059.5 L919.5,1057.2 L920.5,1054.8 L921.5,1052.3 L922.5,1049.7 L923.5,1046.9 L924.5,1044.0 L925.5,1041.0 L926.5,1037.9 L927.5,1034.7 L928.5,1031.3 L929.5,1027.8 L930.5,1024.1 L931.5,1020.4 L932.5,1016.5 L933.5,1012.4 L934.5,1008.2 L935.5,1003.9 L936.5,999.5 L937.5,994.9 L938.5,990.2 L939.5,985.4 L940.5,980.5 L941.5,975.4 L942.5,970.2 L943.5,964.9 L944.5,959.5 L945.5,954.0 L946.5,948.4 L947.5,942.6 L948.5,936.8 L949.5,930.9 L950.5,925.0 L951.5,918.9 L952.5,912.8 L953.5,906.7 L954.5,900.5 L955.5,894.3 L956.5,888.0 L957.5,881.7 L958.5,875.4 L959.5,869.1 L960.5,862.9 L961.5,856.6 L962.5,850.4 L963.5,844.2 L964.5,838.1 L965.5,832.1 L966.5,826.1 L967.5,820.3 L968.5,814.5 L969.5,808.8 L970.5,803.3 L971.5,797.9 L972.5,792.7 L973.5,787.7 L974.5,782.8 L975.5,778.1 L976.5,773.6 L977.5,769.2 L978.5,765.2 L979.5,761.3 L980.5,757.7 L981.5,754.3 L982.5,751.1 L983.5,748.3 L984.5,745.6 L985.5,743.3 L986.5,741.2 L987.5,739.4 L988.5,737.9 L989.5,736.7 L990.5,735.8 L991.5,735.2 L992.5,734.9 L993.5,734.8 L994.5,735.1 L995.5,735.7 L996.5,736.5 L997.5,737.7 L998.5,739.2 L999.5,740.9 L1000.5,742.9 L1001.5,745.2 L1002.5,747.8 L1003.5,750.6 L1004.5,753.7 L1005.5,757.0 L1006.5,760.6 L1007.5,764.4 L1008.5,768.5 L1009.5,772.8 L1010.5,777.2 L1011.5,781.9 L1012.5,786.8 L1013.5,791.8 L1014.5,797.0 L1015.5,802.3 L1016.5,807.8 L1017.5,813.5 L1018.5,819.2 L1019.5,825.1 L1020.5,831.0 L1021.5,837.0 L1022.5,843.1 L1023.5,849.3 L1024.5,855.5 L1025.5,861.7 L1026.5,868.0 L1027.5,874.3 L1028.5,880.6 L1029.5,886.9 L1030.5,893.1 L1031.5,899.4 L1032.5,905.6 L1033.5,911.7 L1034.5,917.8 L1035.5,923.9 L1036.5,929.9 L1037.5,935.8 L1038.5,941.6 L1039.5,947.3 L1040.5,953.0 L1041.5,958.5 L1042.5,963.9 L1043.5,969.3 L1044.5,974.5 L1045.5,979.6 L1046.5,984.5 L1047.5,989.4 L1048.5,994.1 L1049.5,998.7 L1050.5,1003.1 L1051.5,1007.5 L1052.5,1011.7 L1053.5,1015.7 L1054.5,1019.7 L1055.5,1023.5 L1056.5,1027.1 L1057.5,1030.7 L1058.5,1034.1 L1059.5,1037.3 L1060.5,1040.5 L1061.5,1043.5 L1062.5,1046.4 L1063.5,1049.2 L1064.5,1051.8 L1065.5,1054.4 L1066.5,1056.8 L1067.5,1059.1 L1068.5,1061.3 L1069.5,1063.4 L1070.5,1065.4 L1071.5,1067.3 L1072.5,1069.1 L1073.5,1070.9 L1074.5,1072.5 L1075.5,1074.0 L1076.5,1075.5 L1077.5,1076.8 L1078.5,1078.1 L1079.5,1079.4 L1080.5,1080.5 L1081.5,1081.6 L1082.5,1082.6 L1083.5,1083.6 L1084.5,1084.5 L1085.5,1085.3 L1086.5,1086.1 L1087.5,1086.8 L1088.5,1087.5 L1089.5,1088.2 L1090.5,1088.8 L1091.5,1089.3 L1092.5,1089.8 L1093.5,1090.3 L1094.5,1090.8 L1095.5,1091.2 L1096.5,1091.6 L1097.5,1092.0 L1098.5,1092.3 L1099.5,1092.6 L1100.5,1092.9 L1101.5,1093.2 L1102.5,1093.4 L1103.5,1093.6 L1104.5,1093.8 L1105.5,1094.0 L1106.5,1094.2 L1107.5,1094.4 L1108.5,1094.5 L1109.5,1094.6 L1110.5,1094.8 L1111.5,1094.9 L1112.5,1095.0 L1113.5,1095.1 L1114.5,1095.2 L1115.5,1095.2 L1116.5,1095.3 L1117.5,1095.4 L1118.5,1095.4 L1119.5,1095.5 L1120.5,1095.6 L1121.5,1095.6 L1122.5,1095.6 L1123.5,1095.7 L1124.5,1095.7 L1125.5,1095.7 L1126.5,1095.8 L1127.5,1095.8 L1128.5,1095.8 L1129.5,1095.8 L1130.5,1095.8 L1131.5,1095.9 L1132.5,1095.9 L1133.5,1095.9 L1134.5,1095.9 L1135.5,1095.9 L1136.5,1095.9 L1137.5,1095.9 L1138.5,1095.9 L1139.5,1095.9 L1140.5,1096.0 L1141.5,1096.0 L1142.5,1096.0 L1143.5,1096.0 L1144.5,1096.0 L1145.5,1096.0 L1146.5,1096.0 L1147.5,1096.0 L1148.5,1096.0 L1149.5,1096.0 L1150.5,1096.0 L1151.5,1096.0 L1152.5,1096.0 L1153.5,1096.0 L1154.5,1096.0 L1155.5,1096.0 L1156.5,1096.0 L1157.5,1096.0 L1158.5,1096.0 L1159.5,1096.0 L1160.5,1096.0 L1161.5,1096.0 L1162.5,1096.0 L1163.5,1096.0 L1164.5,1096.0 L1165.5,1096.0 L1166.5,1096.0 L1167.5,1096.0 L1168.5,1096.0 L1169.5,1096.0 L1170.5,1096.0 L1171.5,1096.0 L1172.5,1096.0 L1173.5,1096.0 L1174.5,1096.0 L1175.5,1096.0 L1176.5,1096.0 L1177.5,1096.0 L1178.5,1096.0 L1179.5,1096.0 L1180.5,1096.0 L1181.5,1096.0 L1182.5,1096.0 L1183.5,1096.0 L1184.5,1096.0 L1185.5,1096.0 L1186.5,1096.0 L1187.5,1096.0 L1188.5,1096.0 L1189.5,1096.0 L1190.5,1096.0 L1191.5,1096.0 L1192.5,1096.0 L1193.5,1096.0 L1194.5,1096.0 L1195.5,1096.0 L1196.5,1096.0 L1197.5,1096.0 L1198.5,1096.0 L1199.5,1096.0 L1200.5,1096.0 L1201.5,1096.0 L1202.5,1096.0 L1203.5,1096.0 L1204.5,1096.0 L1205.5,1096.0 L1206.5,1096.0 L1207.5,1096.0 L1208.5,1096.0 L1209.5,1096.0 L1210.5,1096.0 L1211.5,1096.0 L1212.5,1096.0 L1213.5,1096.0 L1214.5,1096.0 L1215.5,1096.0 L1216.5,1096.0 L1217.5,1096.0 L1218.5,1096.0 L1219.5,1096.0 L1220.5,1096.0 L1221.5,1096.0 L1222.5,1096.0 L1223.5,1096.0 L1224.5,1096.0 L1225.5,1096.0 L1226.5,1096.0 L1227.5,1096.0 L1228.5,1096.0 L1229.5,1096.0 L1230.5,1096.0 L1231.5,1096.0 L1232.5,1096.0 L1233.5,1096.0 L1234.5,1096.0 L1235.5,1096.0 L1236.5,1096.0 L1237.5,1096.0 L1238.5,1096.0 L1239.5,1096.0 L1240.5,1096.0 L1241.5,1096.0 L1242.5,1096.0 L1243.5,1096.0 L1244.5,1096.0 L1245.5,1096.0 L1246.5,1096.0 L1247.5,1096.0 L1248.5,1096.0 L1249.5,1096.0 L1250.5,1096.0 L1251.5,1096.0 L1252.5,1096.0 L1253.5,1096.0 L1254.5,1096.0 L1255.5,1096.0 L1256.5,1096.0 L1257.5,1096.0 L1258.5,1096.0 L1259.5,1096.0 L1260.5,1096.0 L1261.5,1096.0 L1262.5,1096.0 L1263.5,1096.0 L1264.5,1096.0 L1265.5,1096.0 L1266.5,1096.0 L1267.5,1096.0 L1268.5,1096.0 L1269.5,1096.0 L1270.5,1096.0 L1271.5,1096.0 L1272.5,1096.0 L1273.5,1096.0 L1274.5,1096.0 L1275.5,1096.0 L1276.5,1096.0 L1277.5,1096.0 L1278.5,1096.0 L1279.5,1096.0 L1280.5,1096.0 L1281.5,1096.0 L1282.5,1096.0 L1283.5,1096.0 L1284.5,1096.0 L1285.5,1096.0 L1286.5,1096.0 L1287.5,1096.0 L1288.5,1096.0 L1289.5,1096.0 L1290.5,1096.0 L1291.5,1096.0 L1292.5,1096.0 L1293.5,1096.0 L1294.5,1096.0 L1295.5,1096.0 L1296.5,1096.0 L1297.5,1096.0 L1298.5,1096.0 L1299.5,1096.0 L1300.5,1096.0 L1301.5,1096.0 L1302.5,1096.0 L1303.5,1096.0 L1304.5,1096.0 L1305.5,1096.0 L1306.5,1096.0 L1307.5,1096.0 L1308.5,1096.0 L1309.5,1096.0 L1310.5,1096.0 L1311.5,1096.0 L1312.5,1096.0 L1313.5,1096.0 L1314.5,1096.0 L1315.5,1096.0 L1316.5,1096.0 L1317.5,1096.0 L1318.5,1096.0 L1319.5,1096.0 L1320.5,1096.0 L1321.5,1096.0 L1322.5,1096.0 L1323.5,1096.0 L1324.5,1096.0 L1325.5,1096.0" fill="none" stroke="#1e1a8c" stroke-width="2.6"/>
<path d="M753.5,1096.0 L754.5,1096.0 L755.5,1096.0 L756.5,1096.0 L757.5,1096.0 L758.5,1096.0 L759.5,1096.0 L760.5,1096.0 L761.5,1096.0 L762.5,1096.0 L763.5,1096.0 L764.5,1096.0 L765.5,1096.0 L766.5,1096.0 L767.5,1096.0 L768.5,1096.0 L769.5,1096.0 L770.5,1096.0 L771.5,1096.0 L772.5,1096.0 L773.5,1096.0 L774.5,1096.0 L775.5,1096.0 L776.5,1096.0 L777.5,1096.0 L778.5,1096.0 L779.5,1096.0 L780.5,1096.0 L781.5,1096.0 L782.5,1096.0 L783.5,1096.0 L784.5,1096.0 L785.5,1096.0 L786.5,1096.0 L787.5,1096.0 L788.5,1096.0 L789.5,1096.0 L790.5,1096.0 L791.5,1096.0 L792.5,1096.0 L793.5,1096.0 L794.5,1096.0 L795.5,1096.0 L796.5,1096.0 L797.5,1096.0 L798.5,1096.0 L799.5,1096.0 L800.5,1096.0 L801.5,1096.0 L802.5,1096.0 L803.5,1096.0 L804.5,1096.0 L805.5,1096.0 L806.5,1096.0 L807.5,1096.0 L808.5,1096.0 L809.5,1096.0 L810.5,1096.0 L811.5,1096.0 L812.5,1096.0 L813.5,1096.0 L814.5,1096.0 L815.5,1096.0 L816.5,1096.0 L817.5,1096.0 L818.5,1096.0 L819.5,1096.0 L820.5,1096.0 L821.5,1096.0 L822.5,1096.0 L823.5,1096.0 L824.5,1096.0 L825.5,1096.0 L826.5,1096.0 L827.5,1096.0 L828.5,1096.0 L829.5,1096.0 L830.5,1096.0 L831.5,1096.0 L832.5,1096.0 L833.5,1096.0 L834.5,1096.0 L835.5,1096.0 L836.5,1096.0 L837.5,1096.0 L838.5,1096.0 L839.5,1096.0 L840.5,1096.0 L841.5,1096.0 L842.5,1096.0 L843.5,1096.0 L844.5,1096.0 L845.5,1096.0 L846.5,1095.9 L847.5,1095.9 L848.5,1095.9 L849.5,1095.9 L850.5,1095.9 L851.5,1095.9 L852.5,1095.9 L853.5,1095.9 L854.5,1095.9 L855.5,1095.9 L856.5,1095.8 L857.5,1095.8 L858.5,1095.8 L859.5,1095.8 L860.5,1095.7 L861.5,1095.7 L862.5,1095.7 L863.5,1095.6 L864.5,1095.6 L865.5,1095.6 L866.5,1095.5 L867.5,1095.5 L868.5,1095.4 L869.5,1095.3 L870.5,1095.3 L871.5,1095.2 L872.5,1095.1 L873.5,1095.0 L874.5,1094.9 L875.5,1094.8 L876.5,1094.7 L877.5,1094.5 L878.5,1094.4 L879.5,1094.2 L880.5,1094.0 L881.5,1093.8 L882.5,1093.6 L883.5,1093.4 L884.5,1093.2 L885.5,1092.9 L886.5,1092.6 L887.5,1092.3 L888.5,1092.0 L889.5,1091.6 L890.5,1091.2 L891.5,1090.8 L892.5,1090.4 L893.5,1089.9 L894.5,1089.4 L895.5,1088.8 L896.5,1088.2 L897.5,1087.5 L898.5,1086.9 L899.5,1086.1 L900.5,1085.3 L901.5,1084.5 L902.5,1083.6 L903.5,1082.6 L904.5,1081.6 L905.5,1080.5 L906.5,1079.4 L907.5,1078.1 L908.5,1076.8 L909.5,1075.5 L910.5,1074.0 L911.5,1072.5 L912.5,1070.8 L913.5,1069.1 L914.5,1067.3 L915.5,1065.4 L916.5,1063.4 L917.5,1061.3 L918.5,1059.0 L919.5,1056.7 L920.5,1054.2 L921.5,1051.7 L922.5,1049.0 L923.5,1046.2 L924.5,1043.2 L925.5,1040.2 L926.5,1037.0 L927.5,1033.7 L928.5,1030.2 L929.5,1026.6 L930.5,1022.9 L931.5,1019.1 L932.5,1015.1 L933.5,1010.9 L934.5,1006.6 L935.5,1002.2 L936.5,997.7 L937.5,993.0 L938.5,988.2 L939.5,983.2 L940.5,978.1 L941.5,972.9 L942.5,967.5 L943.5,962.1 L944.5,956.5 L945.5,950.7 L946.5,944.9 L947.5,939.0 L948.5,933.0 L949.5,926.8 L950.5,920.6 L951.5,914.3 L952.5,908.0 L953.5,901.5 L954.5,895.0 L955.5,888.5 L956.5,881.9 L957.5,875.3 L958.5,868.6 L959.5,861.9 L960.5,855.3 L961.5,848.6 L962.5,842.0 L963.5,835.4 L964.5,828.8 L965.5,822.3 L966.5,815.8 L967.5,809.5 L968.5,803.2 L969.5,797.0 L970.5,790.9 L971.5,784.9 L972.5,779.1 L973.5,773.4 L974.5,767.8 L975.5,762.5 L976.5,757.3 L977.5,752.2 L978.5,747.4 L979.5,742.8 L980.5,738.4 L981.5,734.2 L982.5,730.2 L983.5,726.5 L984.5,723.0 L985.5,719.8 L986.5,716.8 L987.5,714.1 L988.5,711.6 L989.5,709.4 L990.5,707.5 L991.5,705.9 L992.5,704.5 L993.5,703.5 L994.5,702.7 L995.5,702.2 L996.5,701.9 L997.5,702.0 L998.5,702.3 L999.5,702.9 L1000.5,703.7 L1001.5,704.9 L1002.5,706.2 L1003.5,707.9 L1004.5,709.8 L1005.5,711.9 L1006.5,714.3 L1007.5,716.9 L1008.5,719.7 L1009.5,722.8 L1010.5,726.0 L1011.5,729.4 L1012.5,733.1 L1013.5,736.9 L1014.5,740.8 L1015.5,745.0 L1016.5,749.3 L1017.5,753.7 L1018.5,758.2 L1019.5,762.9 L1020.5,767.7 L1021.5,772.5 L1022.5,777.5 L1023.5,782.5 L1024.5,787.6 L1025.5,792.8 L1026.5,798.0 L1027.5,803.3 L1028.5,808.5 L1029.5,813.9 L1030.5,819.2 L1031.5,824.5 L1032.5,829.8 L1033.5,835.1 L1034.5,840.4 L1035.5,845.7 L1036.5,850.9 L1037.5,856.1 L1038.5,861.2 L1039.5,866.3 L1040.5,871.4 L1041.5,876.4 L1042.5,881.3 L1043.5,886.2 L1044.5,890.9 L1045.5,895.7 L1046.5,900.3 L1047.5,904.9 L1048.5,909.4 L1049.5,913.8 L1050.5,918.1 L1051.5,922.3 L1052.5,926.5 L1053.5,930.6 L1054.5,934.6 L1055.5,938.5 L1056.5,942.3 L1057.5,946.0 L1058.5,949.7 L1059.5,953.2 L1060.5,956.7 L1061.5,960.1 L1062.5,963.5 L1063.5,966.7 L1064.5,969.9 L1065.5,973.0 L1066.5,976.1 L1067.5,979.0 L1068.5,981.9 L1069.5,984.7 L1070.5,987.5 L1071.5,990.2 L1072.5,992.9 L1073.5,995.4 L1074.5,998.0 L1075.5,1000.4 L1076.5,1002.8 L1077.5,1005.2 L1078.5,1007.5 L1079.5,1009.8 L1080.5,1012.0 L1081.5,1014.2 L1082.5,1016.3 L1083.5,1018.4 L1084.5,1020.4 L1085.5,1022.4 L1086.5,1024.4 L1087.5,1026.3 L1088.5,1028.2 L1089.5,1030.1 L1090.5,1031.9 L1091.5,1033.7 L1092.5,1035.4 L1093.5,1037.1 L1094.5,1038.8 L1095.5,1040.5 L1096.5,1042.1 L1097.5,1043.7 L1098.5,1045.2 L1099.5,1046.8 L1100.5,1048.3 L1101.5,1049.7 L1102.5,1051.2 L1103.5,1052.6 L1104.5,1054.0 L1105.5,1055.3 L1106.5,1056.6 L1107.5,1057.9 L1108.5,1059.2 L1109.5,1060.5 L1110.5,1061.7 L1111.5,1062.9 L1112.5,1064.0 L1113.5,1065.2 L1114.5,1066.3 L1115.5,1067.4 L1116.5,1068.4 L1117.5,1069.4 L1118.5,1070.5 L1119.5,1071.4 L1120.5,1072.4 L1121.5,1073.3 L1122.5,1074.2 L1123.5,1075.1 L1124.5,1075.9 L1125.5,1076.8 L1126.5,1077.6 L1127.5,1078.3 L1128.5,1079.1 L1129.5,1079.8 L1130.5,1080.5 L1131.5,1081.2 L1132.5,1081.9 L1133.5,1082.5 L1134.5,1083.1 L1135.5,1083.7 L1136.5,1084.3 L1137.5,1084.8 L1138.5,1085.4 L1139.5,1085.9 L1140.5,1086.4 L1141.5,1086.8 L1142.5,1087.3 L1143.5,1087.7 L1144.5,1088.2 L1145.5,1088.6 L1146.5,1088.9 L1147.5,1089.3 L1148.5,1089.7 L1149.5,1090.0 L1150.5,1090.3 L1151.5,1090.6 L1152.5,1090.9 L1153.5,1091.2 L1154.5,1091.5 L1155.5,1091.7 L1156.5,1092.0 L1157.5,1092.2 L1158.5,1092.4 L1159.5,1092.6 L1160.5,1092.8 L1161.5,1093.0 L1162.5,1093.2 L1163.5,1093.4 L1164.5,1093.5 L1165.5,1093.7 L1166.5,1093.8 L1167.5,1094.0 L1168.5,1094.1 L1169.5,1094.2 L1170.5,1094.3 L1171.5,1094.4 L1172.5,1094.5 L1173.5,1094.6 L1174.5,1094.7 L1175.5,1094.8 L1176.5,1094.9 L1177.5,1095.0 L1178.5,1095.0 L1179.5,1095.1 L1180.5,1095.2 L1181.5,1095.2 L1182.5,1095.3 L1183.5,1095.3 L1184.5,1095.4 L1185.5,1095.4 L1186.5,1095.5 L1187.5,1095.5 L1188.5,1095.5 L1189.5,1095.6 L1190.5,1095.6 L1191.5,1095.6 L1192.5,1095.7 L1193.5,1095.7 L1194.5,1095.7 L1195.5,1095.7 L1196.5,1095.8 L1197.5,1095.8 L1198.5,1095.8 L1199.5,1095.8 L1200.5,1095.8 L1201.5,1095.8 L1202.5,1095.9 L1203.5,1095.9 L1204.5,1095.9 L1205.5,1095.9 L1206.5,1095.9 L1207.5,1095.9 L1208.5,1095.9 L1209.5,1095.9 L1210.5,1095.9 L1211.5,1095.9 L1212.5,1095.9 L1213.5,1095.9 L1214.5,1095.9 L1215.5,1096.0 L1216.5,1096.0 L1217.5,1096.0 L1218.5,1096.0 L1219.5,1096.0 L1220.5,1096.0 L1221.5,1096.0 L1222.5,1096.0 L1223.5,1096.0 L1224.5,1096.0 L1225.5,1096.0 L1226.5,1096.0 L1227.5,1096.0 L1228.5,1096.0 L1229.5,1096.0 L1230.5,1096.0 L1231.5,1096.0 L1232.5,1096.0 L1233.5,1096.0 L1234.5,1096.0 L1235.5,1096.0 L1236.5,1096.0 L1237.5,1096.0 L1238.5,1096.0 L1239.5,1096.0 L1240.5,1096.0 L1241.5,1096.0 L1242.5,1096.0 L1243.5,1096.0 L1244.5,1096.0 L1245.5,1096.0 L1246.5,1096.0 L1247.5,1096.0 L1248.5,1096.0 L1249.5,1096.0 L1250.5,1096.0 L1251.5,1096.0 L1252.5,1096.0 L1253.5,1096.0 L1254.5,1096.0 L1255.5,1096.0 L1256.5,1096.0 L1257.5,1096.0 L1258.5,1096.0 L1259.5,1096.0 L1260.5,1096.0 L1261.5,1096.0 L1262.5,1096.0 L1263.5,1096.0 L1264.5,1096.0 L1265.5,1096.0 L1266.5,1096.0 L1267.5,1096.0 L1268.5,1096.0 L1269.5,1096.0 L1270.5,1096.0 L1271.5,1096.0 L1272.5,1096.0 L1273.5,1096.0 L1274.5,1096.0 L1275.5,1096.0 L1276.5,1096.0 L1277.5,1096.0 L1278.5,1096.0 L1279.5,1096.0 L1280.5,1096.0 L1281.5,1096.0 L1282.5,1096.0 L1283.5,1096.0 L1284.5,1096.0 L1285.5,1096.0 L1286.5,1096.0 L1287.5,1096.0 L1288.5,1096.0 L1289.5,1096.0 L1290.5,1096.0 L1291.5,1096.0 L1292.5,1096.0 L1293.5,1096.0 L1294.5,1096.0 L1295.5,1096.0 L1296.5,1096.0 L1297.5,1096.0 L1298.5,1096.0 L1299.5,1096.0 L1300.5,1096.0 L1301.5,1096.0 L1302.5,1096.0 L1303.5,1096.0 L1304.5,1096.0 L1305.5,1096.0 L1306.5,1096.0 L1307.5,1096.0 L1308.5,1096.0 L1309.5,1096.0 L1310.5,1096.0 L1311.5,1096.0 L1312.5,1096.0 L1313.5,1096.0 L1314.5,1096.0 L1315.5,1096.0 L1316.5,1096.0 L1317.5,1096.0 L1318.5,1096.0 L1319.5,1096.0 L1320.5,1096.0 L1321.5,1096.0 L1322.5,1096.0 L1323.5,1096.0 L1324.5,1096.0 L1325.5,1096.0" fill="none" stroke="#c644cc" stroke-width="4" stroke-opacity="0.93"/>
<path d="M763.2,1701.5 L782.1,1702.0 L804.7,1702.0 L820.9,1701.5 L828.0,1700.0 L835.5,1696.5 L843.0,1700.5 L853.3,1701.5 L876.8,1700.8 L900.2,1698.5 L922.4,1695.8 L940.0,1692.5 L950.0,1690.0 L960.0,1686.5 L968.0,1683.0 L975.0,1679.0 L981.0,1675.0 L986.0,1671.0 L990.0,1663.0 L994.0,1645.5 L995.0,1642.9 L996.0,1640.1 L997.0,1637.1 L998.0,1634.0 L999.0,1630.6 L1000.0,1627.1 L1001.0,1623.3 L1002.0,1619.4 L1003.0,1615.2 L1004.0,1610.8 L1005.0,1606.2 L1006.0,1601.4 L1007.0,1596.4 L1008.0,1591.1 L1009.0,1585.7 L1010.0,1580.0 L1011.0,1574.1 L1012.0,1568.0 L1013.0,1561.7 L1014.0,1555.1 L1015.0,1548.4 L1016.0,1541.5 L1017.0,1534.5 L1018.0,1527.2 L1019.0,1519.8 L1020.0,1512.3 L1021.0,1504.6 L1022.0,1496.8 L1023.0,1489.0 L1024.0,1481.0 L1025.0,1473.0 L1026.0,1465.0 L1027.0,1456.9 L1028.0,1448.9 L1029.0,1440.9 L1030.0,1432.9 L1031.0,1425.0 L1032.0,1417.2 L1033.0,1409.5 L1034.0,1401.9 L1035.0,1394.5 L1036.0,1387.3 L1037.0,1380.4 L1038.0,1373.6 L1039.0,1367.2 L1040.0,1361.0 L1041.0,1355.1 L1042.0,1349.5 L1043.0,1344.3 L1044.0,1339.5 L1045.0,1335.0 L1046.0,1330.9 L1047.0,1327.2 L1048.0,1324.0 L1049.0,1321.1 L1050.0,1318.7 L1051.0,1316.7 L1052.0,1315.1 L1053.0,1314.0 L1054.0,1313.4 L1055.0,1313.2 L1056.0,1313.5 L1057.0,1314.3 L1058.0,1315.6 L1059.0,1317.3 L1060.0,1319.5 L1061.0,1322.2 L1062.0,1325.2 L1063.0,1328.6 L1064.0,1332.4 L1065.0,1336.4 L1066.0,1340.8 L1067.0,1345.4 L1068.0,1350.3 L1069.0,1355.3 L1070.0,1360.5 L1071.0,1365.8 L1072.0,1371.2 L1073.0,1376.7 L1074.0,1382.2 L1075.0,1387.6 L1076.0,1393.1 L1077.0,1398.4 L1078.0,1403.6 L1079.0,1408.8 L1080.0,1413.7 L1081.0,1418.5 L1082.0,1423.1 L1083.0,1427.4 L1084.0,1431.5 L1085.0,1435.4 L1086.0,1439.1 L1087.0,1442.5 L1088.0,1445.6 L1089.0,1448.4 L1090.0,1451.0 L1091.0,1453.4 L1092.0,1455.5 L1093.0,1457.4 L1094.0,1459.0 L1095.0,1460.5 L1096.0,1461.7 L1097.0,1462.8 L1098.0,1463.7 L1099.0,1464.5 L1100.0,1465.2 L1101.0,1465.8 L1102.0,1466.4 L1103.0,1466.9 L1104.0,1467.4 L1105.0,1467.9 L1106.0,1468.5 L1107.0,1469.1 L1108.0,1469.8 L1109.0,1470.6 L1110.0,1471.5 L1111.0,1472.5 L1112.0,1473.8 L1113.0,1475.2 L1114.0,1476.7 L1115.0,1478.5 L1116.0,1480.5 L1117.0,1482.7 L1118.0,1485.1 L1119.0,1487.7 L1120.0,1490.6 L1121.0,1493.6 L1122.0,1496.9 L1123.0,1500.4 L1124.0,1504.0 L1125.0,1507.9 L1126.0,1511.9 L1127.0,1516.1 L1128.0,1520.5 L1129.0,1525.0 L1130.0,1529.6 L1131.0,1534.3 L1132.0,1539.1 L1133.0,1544.0 L1134.0,1548.9 L1135.0,1553.9 L1136.0,1558.9 L1137.0,1563.9 L1138.0,1568.8 L1139.0,1573.8 L1140.0,1578.7 L1141.0,1583.5 L1142.0,1588.3 L1143.0,1592.9 L1144.0,1597.5 L1145.0,1602.0 L1146.0,1606.3 L1147.0,1610.5 L1148.0,1614.6 L1149.0,1618.6 L1150.0,1622.3 L1151.0,1626.0 L1152.0,1629.5 L1153.0,1632.8 L1154.0,1636.0 L1155.0,1639.0 L1156.0,1641.8 L1157.0,1644.5 L1158.0,1647.1 L1160.9,1658.9 L1164.8,1665.5 L1168.6,1671.8 L1173.7,1678.5 L1178.9,1684.6 L1186.6,1688.7 L1194.3,1690.8 L1200.0,1691.3 L1218.7,1694.5 L1241.5,1693.5 L1260.6,1692.3 L1273.4,1691.3 L1285.0,1688.0 L1296.2,1684.4 L1320.9,1684.8 L1336.5,1683.5" fill="none" stroke="#151515" stroke-width="3" stroke-linejoin="round"/>
<path d="M763.2,1675.8 L764.2,1675.8 L765.2,1675.8 L766.2,1675.8 L767.2,1675.8 L768.2,1675.8 L769.2,1675.8 L770.2,1675.8 L771.2,1675.8 L772.2,1675.8 L773.2,1675.8 L774.2,1675.8 L775.2,1675.8 L776.2,1675.8 L777.2,1675.8 L778.2,1675.8 L779.2,1675.8 L780.2,1675.8 L781.2,1675.8 L782.2,1675.8 L783.2,1675.8 L784.2,1675.8 L785.2,1675.8 L786.2,1675.8 L787.2,1675.8 L788.2,1675.8 L789.2,1675.8 L790.2,1675.8 L791.2,1675.8 L792.2,1675.8 L793.2,1675.8 L794.2,1675.8 L795.2,1675.8 L796.2,1675.8 L797.2,1675.8 L798.2,1675.8 L799.2,1675.8 L800.2,1675.8 L801.2,1675.8 L802.2,1675.8 L803.2,1675.8 L804.2,1675.8 L805.2,1675.8 L806.2,1675.8 L807.2,1675.8 L808.2,1675.8 L809.2,1675.8 L810.2,1675.8 L811.2,1675.8 L812.2,1675.8 L813.2,1675.8 L814.2,1675.8 L815.2,1675.8 L816.2,1675.8 L817.2,1675.8 L818.2,1675.8 L819.2,1675.8 L820.2,1675.8 L821.2,1675.8 L822.2,1675.8 L823.2,1675.8 L824.2,1675.8 L825.2,1675.8 L826.2,1675.8 L827.2,1675.8 L828.2,1675.8 L829.2,1675.8 L830.2,1675.8 L831.2,1675.8 L832.2,1675.8 L833.2,1675.8 L834.2,1675.8 L835.2,1675.8 L836.2,1675.8 L837.2,1675.8 L838.2,1675.8 L839.2,1675.8 L840.2,1675.8 L841.2,1675.8 L842.2,1675.8 L843.2,1675.8 L844.2,1675.8 L845.2,1675.8 L846.2,1675.8 L847.2,1675.8 L848.2,1675.8 L849.2,1675.8 L850.2,1675.8 L851.2,1675.8 L852.2,1675.8 L853.2,1675.8 L854.2,1675.8 L855.2,1675.8 L856.2,1675.8 L857.2,1675.8 L858.2,1675.8 L859.2,1675.8 L860.2,1675.8 L861.2,1675.8 L862.2,1675.8 L863.2,1675.8 L864.2,1675.8 L865.2,1675.8 L866.2,1675.8 L867.2,1675.8 L868.2,1675.8 L869.2,1675.8 L870.2,1675.8 L871.2,1675.8 L872.2,1675.8 L873.2,1675.8 L874.2,1675.8 L875.2,1675.8 L876.2,1675.8 L877.2,1675.8 L878.2,1675.8 L879.2,1675.8 L880.2,1675.8 L881.2,1675.8 L882.2,1675.8 L883.2,1675.8 L884.2,1675.8 L885.2,1675.8 L886.2,1675.8 L887.2,1675.8 L888.2,1675.8 L889.2,1675.8 L890.2,1675.8 L891.2,1675.8 L892.2,1675.8 L893.2,1675.8 L894.2,1675.8 L895.2,1675.8 L896.2,1675.8 L897.2,1675.8 L898.2,1675.8 L899.2,1675.8 L900.2,1675.8 L901.2,1675.8 L902.2,1675.8 L903.2,1675.8 L904.2,1675.8 L905.2,1675.8 L906.2,1675.8 L907.2,1675.8 L908.2,1675.8 L909.2,1675.8 L910.2,1675.8 L911.2,1675.8 L912.2,1675.8 L913.2,1675.8 L914.2,1675.8 L915.2,1675.8 L916.2,1675.8 L917.2,1675.8 L918.2,1675.8 L919.2,1675.8 L920.2,1675.8 L921.2,1675.8 L922.2,1675.8 L923.2,1675.8 L924.2,1675.8 L925.2,1675.8 L926.2,1675.8 L927.2,1675.8 L928.2,1675.8 L929.2,1675.8 L930.2,1675.8 L931.2,1675.8 L932.2,1675.8 L933.2,1675.8 L934.2,1675.8 L935.2,1675.8 L936.2,1675.8 L937.2,1675.8 L938.2,1675.8 L939.2,1675.8 L940.2,1675.8 L941.2,1675.8 L942.2,1675.8 L943.2,1675.8 L944.2,1675.8 L945.2,1675.8 L946.2,1675.8 L947.2,1675.8 L948.2,1675.8 L949.2,1675.8 L950.2,1675.8 L951.2,1675.8 L952.2,1675.8 L953.2,1675.8 L954.2,1675.8 L955.2,1675.8 L956.2,1675.8 L957.2,1675.8 L958.2,1675.8 L959.2,1675.8 L960.2,1675.8 L961.2,1675.8 L962.2,1675.8 L963.2,1675.8 L964.2,1675.8 L965.2,1675.8 L966.2,1675.8 L967.2,1675.8 L968.2,1675.8 L969.2,1675.8 L970.2,1675.8 L971.2,1675.8 L972.2,1675.8 L973.2,1675.8 L974.2,1675.8 L975.2,1675.8 L976.2,1675.8 L977.2,1675.8 L978.2,1675.8 L979.2,1675.8 L980.2,1675.8 L981.2,1675.8 L982.2,1675.8 L983.2,1675.8 L984.2,1675.8 L985.2,1675.8 L986.2,1675.8 L987.2,1675.8 L988.2,1675.8 L989.2,1675.8 L990.2,1675.8 L991.2,1675.8 L992.2,1675.8 L993.2,1675.8 L994.2,1675.8 L995.2,1675.8 L996.2,1675.8 L997.2,1675.8 L998.2,1675.8 L999.2,1675.8 L1000.2,1675.8 L1001.2,1675.8 L1002.2,1675.8 L1003.2,1675.8 L1004.2,1675.8 L1005.2,1675.8 L1006.2,1675.8 L1007.2,1675.8 L1008.2,1675.8 L1009.2,1675.8 L1010.2,1675.8 L1011.2,1675.8 L1012.2,1675.8 L1013.2,1675.8 L1014.2,1675.8 L1015.2,1675.8 L1016.2,1675.8 L1017.2,1675.8 L1018.2,1675.8 L1019.2,1675.8 L1020.2,1675.8 L1021.2,1675.8 L1022.2,1675.8 L1023.2,1675.7 L1024.2,1675.7 L1025.2,1675.7 L1026.2,1675.7 L1027.2,1675.7 L1028.2,1675.7 L1029.2,1675.6 L1030.2,1675.6 L1031.2,1675.6 L1032.2,1675.5 L1033.2,1675.5 L1034.2,1675.4 L1035.2,1675.4 L1036.2,1675.3 L1037.2,1675.2 L1038.2,1675.1 L1039.2,1675.0 L1040.2,1674.9 L1041.2,1674.8 L1042.2,1674.6 L1043.2,1674.5 L1044.2,1674.3 L1045.2,1674.0 L1046.2,1673.8 L1047.2,1673.5 L1048.2,1673.2 L1049.2,1672.9 L1050.2,1672.5 L1051.2,1672.0 L1052.2,1671.5 L1053.2,1671.0 L1054.2,1670.4 L1055.2,1669.7 L1056.2,1669.0 L1057.2,1668.2 L1058.2,1667.3 L1059.2,1666.4 L1060.2,1665.3 L1061.2,1664.2 L1062.2,1662.9 L1063.2,1661.6 L1064.2,1660.1 L1065.2,1658.5 L1066.2,1656.8 L1067.2,1655.0 L1068.2,1653.1 L1069.2,1651.0 L1070.2,1648.7 L1071.2,1646.3 L1072.2,1643.8 L1073.2,1641.1 L1074.2,1638.3 L1075.2,1635.3 L1076.2,1632.1 L1077.2,1628.8 L1078.2,1625.4 L1079.2,1621.8 L1080.2,1618.0 L1081.2,1614.1 L1082.2,1610.1 L1083.2,1605.9 L1084.2,1601.6 L1085.2,1597.2 L1086.2,1592.8 L1087.2,1588.2 L1088.2,1583.5 L1089.2,1578.8 L1090.2,1574.0 L1091.2,1569.3 L1092.2,1564.5 L1093.2,1559.7 L1094.2,1554.9 L1095.2,1550.2 L1096.2,1545.5 L1097.2,1541.0 L1098.2,1536.5 L1099.2,1532.2 L1100.2,1528.0 L1101.2,1524.0 L1102.2,1520.2 L1103.2,1516.6 L1104.2,1513.2 L1105.2,1510.1 L1106.2,1507.2 L1107.2,1504.7 L1108.2,1502.4 L1109.2,1500.4 L1110.2,1498.7 L1111.2,1497.4 L1112.2,1496.4 L1113.2,1495.7 L1114.2,1495.4 L1115.2,1495.5 L1116.2,1495.8 L1117.2,1496.6 L1118.2,1497.6 L1119.2,1499.0 L1120.2,1500.8 L1121.2,1502.8 L1122.2,1505.1 L1123.2,1507.8 L1124.2,1510.7 L1125.2,1513.9 L1126.2,1517.3 L1127.2,1520.9 L1128.2,1524.8 L1129.2,1528.8 L1130.2,1533.0 L1131.2,1537.4 L1132.2,1541.9 L1133.2,1546.5 L1134.2,1551.1 L1135.2,1555.9 L1136.2,1560.6 L1137.2,1565.4 L1138.2,1570.2 L1139.2,1575.0 L1140.2,1579.8 L1141.2,1584.5 L1142.2,1589.1 L1143.2,1593.7 L1144.2,1598.1 L1145.2,1602.5 L1146.2,1606.8 L1147.2,1610.9 L1148.2,1614.9 L1149.2,1618.8 L1150.2,1622.5 L1151.2,1626.1 L1152.2,1629.5 L1153.2,1632.8 L1154.2,1635.9 L1155.2,1638.8 L1156.2,1641.7 L1157.2,1644.3 L1158.2,1646.8 L1159.2,1649.2 L1160.2,1651.4 L1161.2,1653.5 L1162.2,1655.4 L1163.2,1657.2 L1164.2,1658.9 L1165.2,1660.4 L1166.2,1661.9 L1167.2,1663.2 L1168.2,1664.4 L1169.2,1665.5 L1170.2,1666.6 L1171.2,1667.5 L1172.2,1668.4 L1173.2,1669.2 L1174.2,1669.9 L1175.2,1670.5 L1176.2,1671.1 L1177.2,1671.6 L1178.2,1672.1 L1179.2,1672.5 L1180.2,1672.9 L1181.2,1673.3 L1182.2,1673.6 L1183.2,1673.8 L1184.2,1674.1 L1185.2,1674.3 L1186.2,1674.5 L1187.2,1674.7 L1188.2,1674.8 L1189.2,1674.9 L1190.2,1675.1 L1191.2,1675.2 L1192.2,1675.2 L1193.2,1675.3 L1194.2,1675.4 L1195.2,1675.5 L1196.2,1675.5 L1197.2,1675.5 L1198.2,1675.6 L1199.2,1675.6 L1200.2,1675.6 L1201.2,1675.7 L1202.2,1675.7 L1203.2,1675.7 L1204.2,1675.7 L1205.2,1675.7 L1206.2,1675.7 L1207.2,1675.8 L1208.2,1675.8 L1209.2,1675.8 L1210.2,1675.8 L1211.2,1675.8 L1212.2,1675.8 L1213.2,1675.8 L1214.2,1675.8 L1215.2,1675.8 L1216.2,1675.8 L1217.2,1675.8 L1218.2,1675.8 L1219.2,1675.8 L1220.2,1675.8 L1221.2,1675.8 L1222.2,1675.8 L1223.2,1675.8 L1224.2,1675.8 L1225.2,1675.8 L1226.2,1675.8 L1227.2,1675.8 L1228.2,1675.8 L1229.2,1675.8 L1230.2,1675.8 L1231.2,1675.8 L1232.2,1675.8 L1233.2,1675.8 L1234.2,1675.8 L1235.2,1675.8 L1236.2,1675.8 L1237.2,1675.8 L1238.2,1675.8 L1239.2,1675.8 L1240.2,1675.8 L1241.2,1675.8 L1242.2,1675.8 L1243.2,1675.8 L1244.2,1675.8 L1245.2,1675.8 L1246.2,1675.8 L1247.2,1675.8 L1248.2,1675.8 L1249.2,1675.8 L1250.2,1675.8 L1251.2,1675.8 L1252.2,1675.8 L1253.2,1675.8 L1254.2,1675.8 L1255.2,1675.8 L1256.2,1675.8 L1257.2,1675.8 L1258.2,1675.8 L1259.2,1675.8 L1260.2,1675.8 L1261.2,1675.8 L1262.2,1675.8 L1263.2,1675.8 L1264.2,1675.8 L1265.2,1675.8 L1266.2,1675.8 L1267.2,1675.8 L1268.2,1675.8 L1269.2,1675.8 L1270.2,1675.8 L1271.2,1675.8 L1272.2,1675.8 L1273.2,1675.8 L1274.2,1675.8 L1275.2,1675.8 L1276.2,1675.8 L1277.2,1675.8 L1278.2,1675.8 L1279.2,1675.8 L1280.2,1675.8 L1281.2,1675.8 L1282.2,1675.8 L1283.2,1675.8 L1284.2,1675.8 L1285.2,1675.8 L1286.2,1675.8 L1287.2,1675.8 L1288.2,1675.8 L1289.2,1675.8 L1290.2,1675.8 L1291.2,1675.8 L1292.2,1675.8 L1293.2,1675.8 L1294.2,1675.8 L1295.2,1675.8 L1296.2,1675.8 L1297.2,1675.8 L1298.2,1675.8 L1299.2,1675.8 L1300.2,1675.8 L1301.2,1675.8 L1302.2,1675.8 L1303.2,1675.8 L1304.2,1675.8 L1305.2,1675.8 L1306.2,1675.8 L1307.2,1675.8 L1308.2,1675.8 L1309.2,1675.8 L1310.2,1675.8 L1311.2,1675.8 L1312.2,1675.8 L1313.2,1675.8 L1314.2,1675.8 L1315.2,1675.8 L1316.2,1675.8 L1317.2,1675.8 L1318.2,1675.8 L1319.2,1675.8 L1320.2,1675.8 L1321.2,1675.8 L1322.2,1675.8 L1323.2,1675.8 L1324.2,1675.8 L1325.2,1675.8 L1326.2,1675.8 L1327.2,1675.8 L1328.2,1675.8 L1329.2,1675.8 L1330.2,1675.8 L1331.2,1675.8 L1332.2,1675.8 L1333.2,1675.8 L1334.2,1675.8 L1335.2,1675.8 L1336.2,1675.8" fill="none" stroke="#ac283a" stroke-width="2.7"/>
<path d="M763.2,1675.8 L764.2,1675.8 L765.2,1675.8 L766.2,1675.8 L767.2,1675.8 L768.2,1675.8 L769.2,1675.8 L770.2,1675.8 L771.2,1675.8 L772.2,1675.8 L773.2,1675.8 L774.2,1675.8 L775.2,1675.8 L776.2,1675.8 L777.2,1675.8 L778.2,1675.8 L779.2,1675.8 L780.2,1675.8 L781.2,1675.8 L782.2,1675.8 L783.2,1675.8 L784.2,1675.8 L785.2,1675.8 L786.2,1675.8 L787.2,1675.8 L788.2,1675.8 L789.2,1675.8 L790.2,1675.8 L791.2,1675.8 L792.2,1675.8 L793.2,1675.8 L794.2,1675.8 L795.2,1675.8 L796.2,1675.8 L797.2,1675.8 L798.2,1675.8 L799.2,1675.8 L800.2,1675.8 L801.2,1675.8 L802.2,1675.8 L803.2,1675.8 L804.2,1675.8 L805.2,1675.8 L806.2,1675.8 L807.2,1675.8 L808.2,1675.8 L809.2,1675.8 L810.2,1675.8 L811.2,1675.8 L812.2,1675.8 L813.2,1675.8 L814.2,1675.8 L815.2,1675.8 L816.2,1675.8 L817.2,1675.8 L818.2,1675.8 L819.2,1675.8 L820.2,1675.8 L821.2,1675.8 L822.2,1675.8 L823.2,1675.8 L824.2,1675.8 L825.2,1675.8 L826.2,1675.8 L827.2,1675.8 L828.2,1675.8 L829.2,1675.8 L830.2,1675.8 L831.2,1675.8 L832.2,1675.8 L833.2,1675.8 L834.2,1675.8 L835.2,1675.8 L836.2,1675.8 L837.2,1675.8 L838.2,1675.8 L839.2,1675.8 L840.2,1675.8 L841.2,1675.8 L842.2,1675.8 L843.2,1675.8 L844.2,1675.8 L845.2,1675.8 L846.2,1675.8 L847.2,1675.8 L848.2,1675.8 L849.2,1675.8 L850.2,1675.8 L851.2,1675.8 L852.2,1675.8 L853.2,1675.8 L854.2,1675.8 L855.2,1675.8 L856.2,1675.8 L857.2,1675.8 L858.2,1675.8 L859.2,1675.8 L860.2,1675.8 L861.2,1675.8 L862.2,1675.8 L863.2,1675.8 L864.2,1675.8 L865.2,1675.8 L866.2,1675.8 L867.2,1675.8 L868.2,1675.8 L869.2,1675.8 L870.2,1675.8 L871.2,1675.8 L872.2,1675.8 L873.2,1675.8 L874.2,1675.8 L875.2,1675.8 L876.2,1675.8 L877.2,1675.8 L878.2,1675.8 L879.2,1675.8 L880.2,1675.8 L881.2,1675.8 L882.2,1675.8 L883.2,1675.8 L884.2,1675.8 L885.2,1675.8 L886.2,1675.8 L887.2,1675.8 L888.2,1675.8 L889.2,1675.8 L890.2,1675.8 L891.2,1675.8 L892.2,1675.8 L893.2,1675.8 L894.2,1675.8 L895.2,1675.8 L896.2,1675.8 L897.2,1675.8 L898.2,1675.8 L899.2,1675.8 L900.2,1675.8 L901.2,1675.8 L902.2,1675.8 L903.2,1675.8 L904.2,1675.8 L905.2,1675.8 L906.2,1675.8 L907.2,1675.8 L908.2,1675.8 L909.2,1675.8 L910.2,1675.8 L911.2,1675.8 L912.2,1675.8 L913.2,1675.8 L914.2,1675.8 L915.2,1675.8 L916.2,1675.8 L917.2,1675.8 L918.2,1675.8 L919.2,1675.8 L920.2,1675.8 L921.2,1675.8 L922.2,1675.8 L923.2,1675.8 L924.2,1675.8 L925.2,1675.8 L926.2,1675.8 L927.2,1675.8 L928.2,1675.8 L929.2,1675.8 L930.2,1675.8 L931.2,1675.8 L932.2,1675.8 L933.2,1675.8 L934.2,1675.8 L935.2,1675.8 L936.2,1675.8 L937.2,1675.8 L938.2,1675.8 L939.2,1675.8 L940.2,1675.7 L941.2,1675.7 L942.2,1675.7 L943.2,1675.7 L944.2,1675.7 L945.2,1675.7 L946.2,1675.7 L947.2,1675.7 L948.2,1675.6 L949.2,1675.6 L950.2,1675.6 L951.2,1675.5 L952.2,1675.5 L953.2,1675.4 L954.2,1675.4 L955.2,1675.3 L956.2,1675.3 L957.2,1675.2 L958.2,1675.1 L959.2,1675.0 L960.2,1674.9 L961.2,1674.8 L962.2,1674.7 L963.2,1674.5 L964.2,1674.3 L965.2,1674.1 L966.2,1673.9 L967.2,1673.7 L968.2,1673.4 L969.2,1673.1 L970.2,1672.8 L971.2,1672.4 L972.2,1672.0 L973.2,1671.6 L974.2,1671.1 L975.2,1670.6 L976.2,1670.0 L977.2,1669.3 L978.2,1668.6 L979.2,1667.8 L980.2,1667.0 L981.2,1666.1 L982.2,1665.1 L983.2,1664.0 L984.2,1662.8 L985.2,1661.5 L986.2,1660.1 L987.2,1658.6 L988.2,1656.9 L989.2,1655.2 L990.2,1653.3 L991.2,1651.2 L992.2,1649.1 L993.2,1646.7 L994.2,1644.2 L995.2,1641.6 L996.2,1638.7 L997.2,1635.7 L998.2,1632.5 L999.2,1629.1 L1000.2,1625.5 L1001.2,1621.7 L1002.2,1617.7 L1003.2,1613.5 L1004.2,1609.1 L1005.2,1604.5 L1006.2,1599.6 L1007.2,1594.6 L1008.2,1589.3 L1009.2,1583.7 L1010.2,1578.0 L1011.2,1572.1 L1012.2,1565.9 L1013.2,1559.6 L1014.2,1553.0 L1015.2,1546.3 L1016.2,1539.3 L1017.2,1532.2 L1018.2,1525.0 L1019.2,1517.6 L1020.2,1510.0 L1021.2,1502.3 L1022.2,1494.5 L1023.2,1486.7 L1024.2,1478.7 L1025.2,1470.7 L1026.2,1462.7 L1027.2,1454.6 L1028.2,1446.6 L1029.2,1438.6 L1030.2,1430.7 L1031.2,1422.8 L1032.2,1415.1 L1033.2,1407.4 L1034.2,1400.0 L1035.2,1392.7 L1036.2,1385.6 L1037.2,1378.8 L1038.2,1372.2 L1039.2,1365.9 L1040.2,1359.9 L1041.2,1354.2 L1042.2,1348.8 L1043.2,1343.9 L1044.2,1339.3 L1045.2,1335.1 L1046.2,1331.3 L1047.2,1328.0 L1048.2,1325.2 L1049.2,1322.7 L1050.2,1320.8 L1051.2,1319.3 L1052.2,1318.4 L1053.2,1317.9 L1054.2,1317.9 L1055.2,1318.4 L1056.2,1319.6 L1057.2,1321.3 L1058.2,1323.6 L1059.2,1326.4 L1060.2,1329.7 L1061.2,1333.6 L1062.2,1337.9 L1063.2,1342.7 L1064.2,1348.0 L1065.2,1353.7 L1066.2,1359.9 L1067.2,1366.4 L1068.2,1373.2 L1069.2,1380.4 L1070.2,1387.9 L1071.2,1395.6 L1072.2,1403.5 L1073.2,1411.7 L1074.2,1420.0 L1075.2,1428.5 L1076.2,1437.0 L1077.2,1445.6 L1078.2,1454.3 L1079.2,1463.0 L1080.2,1471.7 L1081.2,1480.3 L1082.2,1488.9 L1083.2,1497.3 L1084.2,1505.7 L1085.2,1513.9 L1086.2,1522.0 L1087.2,1529.9 L1088.2,1537.7 L1089.2,1545.2 L1090.2,1552.5 L1091.2,1559.6 L1092.2,1566.4 L1093.2,1573.0 L1094.2,1579.4 L1095.2,1585.5 L1096.2,1591.4 L1097.2,1597.0 L1098.2,1602.4 L1099.2,1607.5 L1100.2,1612.3 L1101.2,1616.9 L1102.2,1621.3 L1103.2,1625.4 L1104.2,1629.3 L1105.2,1632.9 L1106.2,1636.3 L1107.2,1639.5 L1108.2,1642.5 L1109.2,1645.3 L1110.2,1648.0 L1111.2,1650.4 L1112.2,1652.6 L1113.2,1654.7 L1114.2,1656.6 L1115.2,1658.4 L1116.2,1660.1 L1117.2,1661.6 L1118.2,1663.0 L1119.2,1664.2 L1120.2,1665.4 L1121.2,1666.4 L1122.2,1667.4 L1123.2,1668.3 L1124.2,1669.1 L1125.2,1669.8 L1126.2,1670.5 L1127.2,1671.0 L1128.2,1671.6 L1129.2,1672.1 L1130.2,1672.5 L1131.2,1672.9 L1132.2,1673.2 L1133.2,1673.5 L1134.2,1673.8 L1135.2,1674.0 L1136.2,1674.3 L1137.2,1674.4 L1138.2,1674.6 L1139.2,1674.8 L1140.2,1674.9 L1141.2,1675.0 L1142.2,1675.1 L1143.2,1675.2 L1144.2,1675.3 L1145.2,1675.4 L1146.2,1675.4 L1147.2,1675.5 L1148.2,1675.5 L1149.2,1675.6 L1150.2,1675.6 L1151.2,1675.6 L1152.2,1675.6 L1153.2,1675.7 L1154.2,1675.7 L1155.2,1675.7 L1156.2,1675.7 L1157.2,1675.7 L1158.2,1675.7 L1159.2,1675.8 L1160.2,1675.8 L1161.2,1675.8 L1162.2,1675.8 L1163.2,1675.8 L1164.2,1675.8 L1165.2,1675.8 L1166.2,1675.8 L1167.2,1675.8 L1168.2,1675.8 L1169.2,1675.8 L1170.2,1675.8 L1171.2,1675.8 L1172.2,1675.8 L1173.2,1675.8 L1174.2,1675.8 L1175.2,1675.8 L1176.2,1675.8 L1177.2,1675.8 L1178.2,1675.8 L1179.2,1675.8 L1180.2,1675.8 L1181.2,1675.8 L1182.2,1675.8 L1183.2,1675.8 L1184.2,1675.8 L1185.2,1675.8 L1186.2,1675.8 L1187.2,1675.8 L1188.2,1675.8 L1189.2,1675.8 L1190.2,1675.8 L1191.2,1675.8 L1192.2,1675.8 L1193.2,1675.8 L1194.2,1675.8 L1195.2,1675.8 L1196.2,1675.8 L1197.2,1675.8 L1198.2,1675.8 L1199.2,1675.8 L1200.2,1675.8 L1201.2,1675.8 L1202.2,1675.8 L1203.2,1675.8 L1204.2,1675.8 L1205.2,1675.8 L1206.2,1675.8 L1207.2,1675.8 L1208.2,1675.8 L1209.2,1675.8 L1210.2,1675.8 L1211.2,1675.8 L1212.2,1675.8 L1213.2,1675.8 L1214.2,1675.8 L1215.2,1675.8 L1216.2,1675.8 L1217.2,1675.8 L1218.2,1675.8 L1219.2,1675.8 L1220.2,1675.8 L1221.2,1675.8 L1222.2,1675.8 L1223.2,1675.8 L1224.2,1675.8 L1225.2,1675.8 L1226.2,1675.8 L1227.2,1675.8 L1228.2,1675.8 L1229.2,1675.8 L1230.2,1675.8 L1231.2,1675.8 L1232.2,1675.8 L1233.2,1675.8 L1234.2,1675.8 L1235.2,1675.8 L1236.2,1675.8 L1237.2,1675.8 L1238.2,1675.8 L1239.2,1675.8 L1240.2,1675.8 L1241.2,1675.8 L1242.2,1675.8 L1243.2,1675.8 L1244.2,1675.8 L1245.2,1675.8 L1246.2,1675.8 L1247.2,1675.8 L1248.2,1675.8 L1249.2,1675.8 L1250.2,1675.8 L1251.2,1675.8 L1252.2,1675.8 L1253.2,1675.8 L1254.2,1675.8 L1255.2,1675.8 L1256.2,1675.8 L1257.2,1675.8 L1258.2,1675.8 L1259.2,1675.8 L1260.2,1675.8 L1261.2,1675.8 L1262.2,1675.8 L1263.2,1675.8 L1264.2,1675.8 L1265.2,1675.8 L1266.2,1675.8 L1267.2,1675.8 L1268.2,1675.8 L1269.2,1675.8 L1270.2,1675.8 L1271.2,1675.8 L1272.2,1675.8 L1273.2,1675.8 L1274.2,1675.8 L1275.2,1675.8 L1276.2,1675.8 L1277.2,1675.8 L1278.2,1675.8 L1279.2,1675.8 L1280.2,1675.8 L1281.2,1675.8 L1282.2,1675.8 L1283.2,1675.8 L1284.2,1675.8 L1285.2,1675.8 L1286.2,1675.8 L1287.2,1675.8 L1288.2,1675.8 L1289.2,1675.8 L1290.2,1675.8 L1291.2,1675.8 L1292.2,1675.8 L1293.2,1675.8 L1294.2,1675.8 L1295.2,1675.8 L1296.2,1675.8 L1297.2,1675.8 L1298.2,1675.8 L1299.2,1675.8 L1300.2,1675.8 L1301.2,1675.8 L1302.2,1675.8 L1303.2,1675.8 L1304.2,1675.8 L1305.2,1675.8 L1306.2,1675.8 L1307.2,1675.8 L1308.2,1675.8 L1309.2,1675.8 L1310.2,1675.8 L1311.2,1675.8 L1312.2,1675.8 L1313.2,1675.8 L1314.2,1675.8 L1315.2,1675.8 L1316.2,1675.8 L1317.2,1675.8 L1318.2,1675.8 L1319.2,1675.8 L1320.2,1675.8 L1321.2,1675.8 L1322.2,1675.8 L1323.2,1675.8 L1324.2,1675.8 L1325.2,1675.8 L1326.2,1675.8 L1327.2,1675.8 L1328.2,1675.8 L1329.2,1675.8 L1330.2,1675.8 L1331.2,1675.8 L1332.2,1675.8 L1333.2,1675.8 L1334.2,1675.8 L1335.2,1675.8 L1336.2,1675.8" fill="none" stroke="#1e1a8c" stroke-width="2.6"/>
<path d="M763.2,1675.8 L764.2,1675.8 L765.2,1675.8 L766.2,1675.8 L767.2,1675.8 L768.2,1675.8 L769.2,1675.8 L770.2,1675.8 L771.2,1675.8 L772.2,1675.8 L773.2,1675.8 L774.2,1675.8 L775.2,1675.8 L776.2,1675.8 L777.2,1675.8 L778.2,1675.8 L779.2,1675.8 L780.2,1675.8 L781.2,1675.8 L782.2,1675.8 L783.2,1675.8 L784.2,1675.8 L785.2,1675.8 L786.2,1675.8 L787.2,1675.8 L788.2,1675.8 L789.2,1675.8 L790.2,1675.8 L791.2,1675.8 L792.2,1675.8 L793.2,1675.8 L794.2,1675.8 L795.2,1675.8 L796.2,1675.8 L797.2,1675.8 L798.2,1675.8 L799.2,1675.8 L800.2,1675.8 L801.2,1675.8 L802.2,1675.8 L803.2,1675.8 L804.2,1675.8 L805.2,1675.8 L806.2,1675.8 L807.2,1675.8 L808.2,1675.8 L809.2,1675.8 L810.2,1675.8 L811.2,1675.8 L812.2,1675.8 L813.2,1675.8 L814.2,1675.8 L815.2,1675.8 L816.2,1675.8 L817.2,1675.8 L818.2,1675.8 L819.2,1675.8 L820.2,1675.8 L821.2,1675.8 L822.2,1675.8 L823.2,1675.8 L824.2,1675.8 L825.2,1675.8 L826.2,1675.8 L827.2,1675.8 L828.2,1675.8 L829.2,1675.8 L830.2,1675.8 L831.2,1675.8 L832.2,1675.8 L833.2,1675.8 L834.2,1675.8 L835.2,1675.8 L836.2,1675.8 L837.2,1675.8 L838.2,1675.8 L839.2,1675.8 L840.2,1675.8 L841.2,1675.8 L842.2,1675.8 L843.2,1675.8 L844.2,1675.8 L845.2,1675.8 L846.2,1675.8 L847.2,1675.8 L848.2,1675.8 L849.2,1675.8 L850.2,1675.8 L851.2,1675.8 L852.2,1675.8 L853.2,1675.8 L854.2,1675.8 L855.2,1675.8 L856.2,1675.8 L857.2,1675.8 L858.2,1675.8 L859.2,1675.8 L860.2,1675.8 L861.2,1675.8 L862.2,1675.8 L863.2,1675.8 L864.2,1675.8 L865.2,1675.8 L866.2,1675.8 L867.2,1675.8 L868.2,1675.8 L869.2,1675.8 L870.2,1675.8 L871.2,1675.8 L872.2,1675.8 L873.2,1675.8 L874.2,1675.8 L875.2,1675.8 L876.2,1675.8 L877.2,1675.8 L878.2,1675.8 L879.2,1675.8 L880.2,1675.8 L881.2,1675.8 L882.2,1675.8 L883.2,1675.8 L884.2,1675.8 L885.2,1675.8 L886.2,1675.8 L887.2,1675.8 L888.2,1675.8 L889.2,1675.8 L890.2,1675.8 L891.2,1675.8 L892.2,1675.8 L893.2,1675.8 L894.2,1675.8 L895.2,1675.8 L896.2,1675.8 L897.2,1675.8 L898.2,1675.8 L899.2,1675.8 L900.2,1675.8 L901.2,1675.8 L902.2,1675.8 L903.2,1675.8 L904.2,1675.8 L905.2,1675.8 L906.2,1675.8 L907.2,1675.8 L908.2,1675.8 L909.2,1675.8 L910.2,1675.8 L911.2,1675.8 L912.2,1675.8 L913.2,1675.8 L914.2,1675.8 L915.2,1675.8 L916.2,1675.8 L917.2,1675.8 L918.2,1675.8 L919.2,1675.8 L920.2,1675.8 L921.2,1675.8 L922.2,1675.8 L923.2,1675.8 L924.2,1675.8 L925.2,1675.8 L926.2,1675.8 L927.2,1675.8 L928.2,1675.8 L929.2,1675.8 L930.2,1675.8 L931.2,1675.8 L932.2,1675.8 L933.2,1675.8 L934.2,1675.8 L935.2,1675.8 L936.2,1675.8 L937.2,1675.8 L938.2,1675.8 L939.2,1675.8 L940.2,1675.7 L941.2,1675.7 L942.2,1675.7 L943.2,1675.7 L944.2,1675.7 L945.2,1675.7 L946.2,1675.7 L947.2,1675.7 L948.2,1675.6 L949.2,1675.6 L950.2,1675.6 L951.2,1675.5 L952.2,1675.5 L953.2,1675.4 L954.2,1675.4 L955.2,1675.3 L956.2,1675.3 L957.2,1675.2 L958.2,1675.1 L959.2,1675.0 L960.2,1674.9 L961.2,1674.8 L962.2,1674.7 L963.2,1674.5 L964.2,1674.3 L965.2,1674.1 L966.2,1673.9 L967.2,1673.7 L968.2,1673.4 L969.2,1673.1 L970.2,1672.8 L971.2,1672.4 L972.2,1672.0 L973.2,1671.6 L974.2,1671.1 L975.2,1670.6 L976.2,1670.0 L977.2,1669.3 L978.2,1668.6 L979.2,1667.8 L980.2,1667.0 L981.2,1666.1 L982.2,1665.1 L983.2,1664.0 L984.2,1662.8 L985.2,1661.5 L986.2,1660.1 L987.2,1658.6 L988.2,1656.9 L989.2,1655.2 L990.2,1653.3 L991.2,1651.2 L992.2,1649.1 L993.2,1646.7 L994.2,1644.2 L995.2,1641.6 L996.2,1638.7 L997.2,1635.7 L998.2,1632.5 L999.2,1629.1 L1000.2,1625.5 L1001.2,1621.7 L1002.2,1617.7 L1003.2,1613.5 L1004.2,1609.1 L1005.2,1604.5 L1006.2,1599.6 L1007.2,1594.5 L1008.2,1589.3 L1009.2,1583.7 L1010.2,1578.0 L1011.2,1572.1 L1012.2,1565.9 L1013.2,1559.6 L1014.2,1553.0 L1015.2,1546.3 L1016.2,1539.3 L1017.2,1532.2 L1018.2,1524.9 L1019.2,1517.5 L1020.2,1510.0 L1021.2,1502.3 L1022.2,1494.5 L1023.2,1486.6 L1024.2,1478.6 L1025.2,1470.6 L1026.2,1462.6 L1027.2,1454.5 L1028.2,1446.5 L1029.2,1438.5 L1030.2,1430.5 L1031.2,1422.6 L1032.2,1414.8 L1033.2,1407.1 L1034.2,1399.6 L1035.2,1392.3 L1036.2,1385.1 L1037.2,1378.2 L1038.2,1371.5 L1039.2,1365.1 L1040.2,1359.0 L1041.2,1353.2 L1042.2,1347.7 L1043.2,1342.5 L1044.2,1337.8 L1045.2,1333.4 L1046.2,1329.3 L1047.2,1325.7 L1048.2,1322.6 L1049.2,1319.8 L1050.2,1317.5 L1051.2,1315.6 L1052.2,1314.1 L1053.2,1313.1 L1054.2,1312.5 L1055.2,1312.4 L1056.2,1312.8 L1057.2,1313.7 L1058.2,1315.1 L1059.2,1316.9 L1060.2,1319.2 L1061.2,1321.9 L1062.2,1325.0 L1063.2,1328.5 L1064.2,1332.3 L1065.2,1336.5 L1066.2,1340.9 L1067.2,1345.6 L1068.2,1350.5 L1069.2,1355.6 L1070.2,1360.8 L1071.2,1366.1 L1072.2,1371.5 L1073.2,1377.0 L1074.2,1382.5 L1075.2,1387.9 L1076.2,1393.3 L1077.2,1398.7 L1078.2,1403.9 L1079.2,1409.0 L1080.2,1413.9 L1081.2,1418.6 L1082.2,1423.1 L1083.2,1427.5 L1084.2,1431.5 L1085.2,1435.4 L1086.2,1439.0 L1087.2,1442.3 L1088.2,1445.4 L1089.2,1448.2 L1090.2,1450.7 L1091.2,1453.0 L1092.2,1455.1 L1093.2,1456.9 L1094.2,1458.5 L1095.2,1459.9 L1096.2,1461.1 L1097.2,1462.2 L1098.2,1463.1 L1099.2,1463.9 L1100.2,1464.5 L1101.2,1465.1 L1102.2,1465.7 L1103.2,1466.2 L1104.2,1466.7 L1105.2,1467.2 L1106.2,1467.8 L1107.2,1468.4 L1108.2,1469.1 L1109.2,1469.9 L1110.2,1470.9 L1111.2,1472.0 L1112.2,1473.2 L1113.2,1474.7 L1114.2,1476.3 L1115.2,1478.1 L1116.2,1480.1 L1117.2,1482.3 L1118.2,1484.8 L1119.2,1487.5 L1120.2,1490.4 L1121.2,1493.5 L1122.2,1496.8 L1123.2,1500.3 L1124.2,1504.0 L1125.2,1507.9 L1126.2,1512.0 L1127.2,1516.2 L1128.2,1520.6 L1129.2,1525.1 L1130.2,1529.7 L1131.2,1534.5 L1132.2,1539.3 L1133.2,1544.2 L1134.2,1549.1 L1135.2,1554.1 L1136.2,1559.1 L1137.2,1564.1 L1138.2,1569.0 L1139.2,1574.0 L1140.2,1578.9 L1141.2,1583.7 L1142.2,1588.4 L1143.2,1593.1 L1144.2,1597.6 L1145.2,1602.1 L1146.2,1606.4 L1147.2,1610.6 L1148.2,1614.6 L1149.2,1618.5 L1150.2,1622.3 L1151.2,1625.9 L1152.2,1629.3 L1153.2,1632.6 L1154.2,1635.8 L1155.2,1638.7 L1156.2,1641.6 L1157.2,1644.2 L1158.2,1646.8 L1159.2,1649.1 L1160.2,1651.3 L1161.2,1653.4 L1162.2,1655.4 L1163.2,1657.2 L1164.2,1658.9 L1165.2,1660.4 L1166.2,1661.9 L1167.2,1663.2 L1168.2,1664.4 L1169.2,1665.5 L1170.2,1666.6 L1171.2,1667.5 L1172.2,1668.4 L1173.2,1669.2 L1174.2,1669.9 L1175.2,1670.5 L1176.2,1671.1 L1177.2,1671.6 L1178.2,1672.1 L1179.2,1672.5 L1180.2,1672.9 L1181.2,1673.3 L1182.2,1673.6 L1183.2,1673.8 L1184.2,1674.1 L1185.2,1674.3 L1186.2,1674.5 L1187.2,1674.7 L1188.2,1674.8 L1189.2,1674.9 L1190.2,1675.1 L1191.2,1675.2 L1192.2,1675.2 L1193.2,1675.3 L1194.2,1675.4 L1195.2,1675.5 L1196.2,1675.5 L1197.2,1675.5 L1198.2,1675.6 L1199.2,1675.6 L1200.2,1675.6 L1201.2,1675.7 L1202.2,1675.7 L1203.2,1675.7 L1204.2,1675.7 L1205.2,1675.7 L1206.2,1675.7 L1207.2,1675.8 L1208.2,1675.8 L1209.2,1675.8 L1210.2,1675.8 L1211.2,1675.8 L1212.2,1675.8 L1213.2,1675.8 L1214.2,1675.8 L1215.2,1675.8 L1216.2,1675.8 L1217.2,1675.8 L1218.2,1675.8 L1219.2,1675.8 L1220.2,1675.8 L1221.2,1675.8 L1222.2,1675.8 L1223.2,1675.8 L1224.2,1675.8 L1225.2,1675.8 L1226.2,1675.8 L1227.2,1675.8 L1228.2,1675.8 L1229.2,1675.8 L1230.2,1675.8 L1231.2,1675.8 L1232.2,1675.8 L1233.2,1675.8 L1234.2,1675.8 L1235.2,1675.8 L1236.2,1675.8 L1237.2,1675.8 L1238.2,1675.8 L1239.2,1675.8 L1240.2,1675.8 L1241.2,1675.8 L1242.2,1675.8 L1243.2,1675.8 L1244.2,1675.8 L1245.2,1675.8 L1246.2,1675.8 L1247.2,1675.8 L1248.2,1675.8 L1249.2,1675.8 L1250.2,1675.8 L1251.2,1675.8 L1252.2,1675.8 L1253.2,1675.8 L1254.2,1675.8 L1255.2,1675.8 L1256.2,1675.8 L1257.2,1675.8 L1258.2,1675.8 L1259.2,1675.8 L1260.2,1675.8 L1261.2,1675.8 L1262.2,1675.8 L1263.2,1675.8 L1264.2,1675.8 L1265.2,1675.8 L1266.2,1675.8 L1267.2,1675.8 L1268.2,1675.8 L1269.2,1675.8 L1270.2,1675.8 L1271.2,1675.8 L1272.2,1675.8 L1273.2,1675.8 L1274.2,1675.8 L1275.2,1675.8 L1276.2,1675.8 L1277.2,1675.8 L1278.2,1675.8 L1279.2,1675.8 L1280.2,1675.8 L1281.2,1675.8 L1282.2,1675.8 L1283.2,1675.8 L1284.2,1675.8 L1285.2,1675.8 L1286.2,1675.8 L1287.2,1675.8 L1288.2,1675.8 L1289.2,1675.8 L1290.2,1675.8 L1291.2,1675.8 L1292.2,1675.8 L1293.2,1675.8 L1294.2,1675.8 L1295.2,1675.8 L1296.2,1675.8 L1297.2,1675.8 L1298.2,1675.8 L1299.2,1675.8 L1300.2,1675.8 L1301.2,1675.8 L1302.2,1675.8 L1303.2,1675.8 L1304.2,1675.8 L1305.2,1675.8 L1306.2,1675.8 L1307.2,1675.8 L1308.2,1675.8 L1309.2,1675.8 L1310.2,1675.8 L1311.2,1675.8 L1312.2,1675.8 L1313.2,1675.8 L1314.2,1675.8 L1315.2,1675.8 L1316.2,1675.8 L1317.2,1675.8 L1318.2,1675.8 L1319.2,1675.8 L1320.2,1675.8 L1321.2,1675.8 L1322.2,1675.8 L1323.2,1675.8 L1324.2,1675.8 L1325.2,1675.8 L1326.2,1675.8 L1327.2,1675.8 L1328.2,1675.8 L1329.2,1675.8 L1330.2,1675.8 L1331.2,1675.8 L1332.2,1675.8 L1333.2,1675.8 L1334.2,1675.8 L1335.2,1675.8 L1336.2,1675.8" fill="none" stroke="#c644cc" stroke-width="4" stroke-opacity="0.93"/>
</g>
<g id="frames">
<rect x="83.0" y="31.9" width="1247.8" height="487.0" fill="none" stroke="#000" stroke-width="3"/>
<rect x="82.9" y="659.0" width="580.4" height="468.5" fill="none" stroke="#000" stroke-width="3"/>
<rect x="752.0" y="662.2" width="575.2" height="463.5" fill="none" stroke="#000" stroke-width="3"/>
<rect x="78.8" y="1261.4" width="576.0" height="464.9" fill="none" stroke="#000" stroke-width="3"/>
<rect x="761.7" y="1257.2" width="576.5" height="464.6" fill="none" stroke="#000" stroke-width="3"/>
<line x1="132.5" y1="518.9" x2="132.5" y2="532.4" stroke="#000" stroke-width="3"/><line x1="332.2" y1="518.9" x2="332.2" y2="532.4" stroke="#000" stroke-width="3"/><line x1="531.9" y1="518.9" x2="531.9" y2="532.4" stroke="#000" stroke-width="3"/><line x1="731.6" y1="518.9" x2="731.6" y2="532.4" stroke="#000" stroke-width="3"/><line x1="931.4" y1="518.9" x2="931.4" y2="532.4" stroke="#000" stroke-width="3"/><line x1="1131.1" y1="518.9" x2="1131.1" y2="532.4" stroke="#000" stroke-width="3"/><line x1="1330.8" y1="518.9" x2="1330.8" y2="532.4" stroke="#000" stroke-width="3"/>
<line x1="232.4" y1="518.9" x2="232.4" y2="525.9" stroke="#000" stroke-width="3"/><line x1="432.1" y1="518.9" x2="432.1" y2="525.9" stroke="#000" stroke-width="3"/><line x1="631.8" y1="518.9" x2="631.8" y2="525.9" stroke="#000" stroke-width="3"/><line x1="831.5" y1="518.9" x2="831.5" y2="525.9" stroke="#000" stroke-width="3"/><line x1="1031.2" y1="518.9" x2="1031.2" y2="525.9" stroke="#000" stroke-width="3"/><line x1="1230.9" y1="518.9" x2="1230.9" y2="525.9" stroke="#000" stroke-width="3"/>
<line x1="131.3" y1="1127.5" x2="131.3" y2="1137.5" stroke="#000" stroke-width="3"/><line x1="228.0" y1="1127.5" x2="228.0" y2="1137.5" stroke="#000" stroke-width="3"/><line x1="324.8" y1="1127.5" x2="324.8" y2="1137.5" stroke="#000" stroke-width="3"/><line x1="421.5" y1="1127.5" x2="421.5" y2="1137.5" stroke="#000" stroke-width="3"/><line x1="518.2" y1="1127.5" x2="518.2" y2="1137.5" stroke="#000" stroke-width="3"/><line x1="615.0" y1="1127.5" x2="615.0" y2="1137.5" stroke="#000" stroke-width="3"/>
<line x1="82.9" y1="1127.5" x2="82.9" y2="1133.0" stroke="#000" stroke-width="3"/><line x1="179.6" y1="1127.5" x2="179.6" y2="1133.0" stroke="#000" stroke-width="3"/><line x1="276.4" y1="1127.5" x2="276.4" y2="1133.0" stroke="#000" stroke-width="3"/><line x1="373.1" y1="1127.5" x2="373.1" y2="1133.0" stroke="#000" stroke-width="3"/><line x1="469.9" y1="1127.5" x2="469.9" y2="1133.0" stroke="#000" stroke-width="3"/><line x1="566.6" y1="1127.5" x2="566.6" y2="1133.0" stroke="#000" stroke-width="3"/><line x1="663.3" y1="1127.5" x2="663.3" y2="1133.0" stroke="#000" stroke-width="3"/>
<line x1="823.9" y1="1125.7" x2="823.9" y2="1135.7" stroke="#000" stroke-width="3"/><line x1="967.7" y1="1125.7" x2="967.7" y2="1135.7" stroke="#000" stroke-width="3"/><line x1="1111.5" y1="1125.7" x2="1111.5" y2="1135.7" stroke="#000" stroke-width="3"/><line x1="1255.3" y1="1125.7" x2="1255.3" y2="1135.7" stroke="#000" stroke-width="3"/>
<line x1="752.0" y1="1125.7" x2="752.0" y2="1131.2" stroke="#000" stroke-width="3"/><line x1="895.8" y1="1125.7" x2="895.8" y2="1131.2" stroke="#000" stroke-width="3"/><line x1="1039.6" y1="1125.7" x2="1039.6" y2="1131.2" stroke="#000" stroke-width="3"/><line x1="1183.4" y1="1125.7" x2="1183.4" y2="1131.2" stroke="#000" stroke-width="3"/><line x1="1327.2" y1="1125.7" x2="1327.2" y2="1131.2" stroke="#000" stroke-width="3"/>
<line x1="78.8" y1="1726.3" x2="78.8" y2="1736.3" stroke="#000" stroke-width="3"/><line x1="206.8" y1="1726.3" x2="206.8" y2="1736.3" stroke="#000" stroke-width="3"/><line x1="334.8" y1="1726.3" x2="334.8" y2="1736.3" stroke="#000" stroke-width="3"/><line x1="462.8" y1="1726.3" x2="462.8" y2="1736.3" stroke="#000" stroke-width="3"/><line x1="590.8" y1="1726.3" x2="590.8" y2="1736.3" stroke="#000" stroke-width="3"/>
<line x1="142.8" y1="1726.3" x2="142.8" y2="1731.8" stroke="#000" stroke-width="3"/><line x1="270.8" y1="1726.3" x2="270.8" y2="1731.8" stroke="#000" stroke-width="3"/><line x1="398.8" y1="1726.3" x2="398.8" y2="1731.8" stroke="#000" stroke-width="3"/><line x1="526.8" y1="1726.3" x2="526.8" y2="1731.8" stroke="#000" stroke-width="3"/><line x1="654.8" y1="1726.3" x2="654.8" y2="1731.8" stroke="#000" stroke-width="3"/>
<line x1="761.7" y1="1721.8" x2="761.7" y2="1731.8" stroke="#000" stroke-width="3"/><line x1="866.5" y1="1721.8" x2="866.5" y2="1731.8" stroke="#000" stroke-width="3"/><line x1="971.3" y1="1721.8" x2="971.3" y2="1731.8" stroke="#000" stroke-width="3"/><line x1="1076.2" y1="1721.8" x2="1076.2" y2="1731.8" stroke="#000" stroke-width="3"/><line x1="1181.0" y1="1721.8" x2="1181.0" y2="1731.8" stroke="#000" stroke-width="3"/><line x1="1285.8" y1="1721.8" x2="1285.8" y2="1731.8" stroke="#000" stroke-width="3"/>
<line x1="814.1" y1="1721.8" x2="814.1" y2="1727.3" stroke="#000" stroke-width="3"/><line x1="918.9" y1="1721.8" x2="918.9" y2="1727.3" stroke="#000" stroke-width="3"/><line x1="1023.8" y1="1721.8" x2="1023.8" y2="1727.3" stroke="#000" stroke-width="3"/><line x1="1128.6" y1="1721.8" x2="1128.6" y2="1727.3" stroke="#000" stroke-width="3"/><line x1="1233.4" y1="1721.8" x2="1233.4" y2="1727.3" stroke="#000" stroke-width="3"/><line x1="1338.2" y1="1721.8" x2="1338.2" y2="1727.3" stroke="#000" stroke-width="3"/>
</g>
<g id="labels">
<text x="132.5" y="561.5" font-size="28" text-anchor="middle">0</text>
<text x="332.2" y="561.5" font-size="28" text-anchor="middle">200</text>
<text x="531.9" y="561.5" font-size="28" text-anchor="middle">400</text>
<text x="731.6" y="561.5" font-size="28" text-anchor="middle">600</text>
<text x="931.4" y="561.5" font-size="28" text-anchor="middle">800</text>
<text x="1131.1" y="561.5" font-size="28" text-anchor="middle">1000</text>
<text x="1330.8" y="561.5" font-size="28" text-anchor="middle">1200</text>
<text x="131.3" y="1163.6" font-size="26" text-anchor="middle">80</text>
<text x="228.0" y="1163.6" font-size="26" text-anchor="middle">82</text>
<text x="324.8" y="1163.6" font-size="26" text-anchor="middle">84</text>
<text x="421.5" y="1163.6" font-size="26" text-anchor="middle">86</text>
<text x="518.2" y="1163.6" font-size="26" text-anchor="middle">88</text>
<text x="615.0" y="1163.6" font-size="26" text-anchor="middle">90</text>
<text x="823.9" y="1160.3" font-size="26" text-anchor="middle">528</text>
<text x="967.7" y="1160.3" font-size="26" text-anchor="middle">531</text>
<text x="1111.5" y="1160.3" font-size="26" text-anchor="middle">534</text>
<text x="1255.3" y="1160.3" font-size="26" text-anchor="middle">537</text>
<text x="78.8" y="1762.0" font-size="26" text-anchor="middle">400</text>
<text x="206.8" y="1762.0" font-size="26" text-anchor="middle">404</text>
<text x="334.8" y="1762.0" font-size="26" text-anchor="middle">408</text>
<text x="462.8" y="1762.0" font-size="26" text-anchor="middle">412</text>
<text x="590.8" y="1762.0" font-size="26" text-anchor="middle">416</text>
<text x="761.7" y="1758.3" font-size="26" text-anchor="middle">156</text>
<text x="866.5" y="1758.3" font-size="26" text-anchor="middle">158</text>
<text x="971.3" y="1758.3" font-size="26" text-anchor="middle">160</text>
<text x="1076.2" y="1758.3" font-size="26" text-anchor="middle">162</text>
<text x="1181.0" y="1758.3" font-size="26" text-anchor="middle">164</text>
<text x="1285.8" y="1758.3" font-size="26" text-anchor="middle">166</text>
<text x="503.7" y="611.8" font-size="47" text-anchor="start">Binding Energy (eV)</text>
<text x="183.4" y="1207.0" font-size="47" text-anchor="start">Binding Energy (eV)</text>
<text x="828.0" y="1206.3" font-size="47" text-anchor="start">Binding Energy (eV)</text>
<text x="163.5" y="1815.3" font-size="47" text-anchor="start">Binding Energy (eV)</text>
<text x="835.4" y="1815.3" font-size="47" text-anchor="start">Binding Energy (eV)</text>
<text transform="translate(51.2,444.8) rotate(-90)" font-size="47" text-anchor="start">Intensity (a.u.)</text>
<text transform="translate(50.8,1046.3) rotate(-90)" font-size="47" text-anchor="start">Intensity (a.u.)</text>
<text transform="translate(729.8,1047.6) rotate(-90)" font-size="47" text-anchor="start">Intensity (a.u.)</text>
<text transform="translate(50.6,1646.7) rotate(-90)" font-size="47" text-anchor="start">Intensity (a.u.)</text>
<text transform="translate(728.6,1646.4) rotate(-90)" font-size="47" text-anchor="start">Intensity (a.u.)</text>
<text x="95.1" y="108.1" font-size="62" text-anchor="start">(a)</text>
<text x="93.0" y="729.1" font-size="62" text-anchor="start">(b)</text>
<text x="765.4" y="729.7" font-size="62" text-anchor="start">(c)</text>
<text x="93.0" y="1329.4" font-size="62" text-anchor="start">(d)</text>
<text x="780.1" y="1336.8" font-size="62" text-anchor="start">(e)</text>
<text x="235.8" y="735.5" font-size="41">Au 4f<tspan font-size="28" dy="9">7/2</tspan></text>
<text x="403.3" y="803.8" font-size="41">Au 4f<tspan font-size="28" dy="9">5/2</tspan></text>
<text x="187.8" y="1316.3" font-size="41">Cd 3d<tspan font-size="28" dy="9">5/2</tspan></text>
<text x="400.1" y="1396.0" font-size="41">Cd 3d<tspan font-size="28" dy="9">3/2</tspan></text>
<text x="999.6" y="1298.8" font-size="41">S 2p<tspan font-size="28" dy="9">3/2</tspan></text>
<text x="1123.2" y="1435.7" font-size="41">S 2p<tspan font-size="28" dy="9">1/2</tspan></text>
<text x="835.5" y="707.5" font-size="42" text-anchor="start">−C−O</text>
<text x="1223.1" y="715.5" font-size="42" text-anchor="start">O 1s</text>
<text x="1072.8" y="979.7" font-size="43" text-anchor="start">−C</text>
<rect x="1127.9" y="961.3" width="29.4" height="3.8" fill="#000"/>
<rect x="1127.9" y="969.0" width="29.4" height="3.8" fill="#000"/>
<text x="1158.4" y="979.7" font-size="43" text-anchor="start">O</text>
<text transform="translate(151.6,452.9) rotate(-90)" font-size="21.5" text-anchor="start">-Cd4d</text>
<text transform="translate(216.6,485.6) rotate(-90)" font-size="21.5" text-anchor="start">-Au 4f7</text>
<text transform="translate(219.6,429.8) rotate(-90)" font-size="21.5" text-anchor="start">-Au 4f5</text>
<text transform="translate(223.8,362.8) rotate(-90)" font-size="21.5" text-anchor="start">-Au 4f7</text>
<text transform="translate(299.1,463.3) rotate(-90)" font-size="21.5" text-anchor="start">-S2p</text>
<text transform="translate(361.8,468.5) rotate(-90)" font-size="21.5" text-anchor="start">-S2s</text>
<text transform="translate(421.8,463.3) rotate(-90)" font-size="21.5" text-anchor="start">-C1s</text>
<text transform="translate(471.2,478.3) rotate(-90)" font-size="21.5" text-anchor="start">-Au 4d5</text>
<text transform="translate(495.9,479.1) rotate(-90)" font-size="21.5" text-anchor="start">-Au 4d3</text>
<text transform="translate(544.3,147.2) rotate(-90)" font-size="21.5" text-anchor="start">-Cd 3d5</text>
<text transform="translate(558.0,222.7) rotate(-90)" font-size="21.5" text-anchor="start">-Cd 3d3</text>
<text transform="translate(669.7,370.2) rotate(-90)" font-size="21.5" text-anchor="start">-O1s</text>
<text transform="translate(687.4,405.7) rotate(-90)" font-size="21.5" text-anchor="start">-Au 4p3</text>
<text transform="translate(754.9,308.0) rotate(-90)" font-size="21.5" text-anchor="start">-Cd 3p3</text>
<text transform="translate(772.3,384.3) rotate(-90)" font-size="21.5" text-anchor="start">-Au 4p1</text>
<text transform="translate(790.3,347.8) rotate(-90)" font-size="21.5" text-anchor="start">-Cd 3p1</text>
<text transform="translate(907.6,390.7) rotate(-90)" font-size="21.5" text-anchor="start">-Cd 3s</text>
<text transform="translate(1114.2,413.4) rotate(-90)" font-size="21.5" text-anchor="start">-O KLL</text>
<text transform="translate(1250.4,386.9) rotate(-90)" font-size="21.5" text-anchor="start">-CdMNN1</text>
</g>
</svg>
</body></html>
